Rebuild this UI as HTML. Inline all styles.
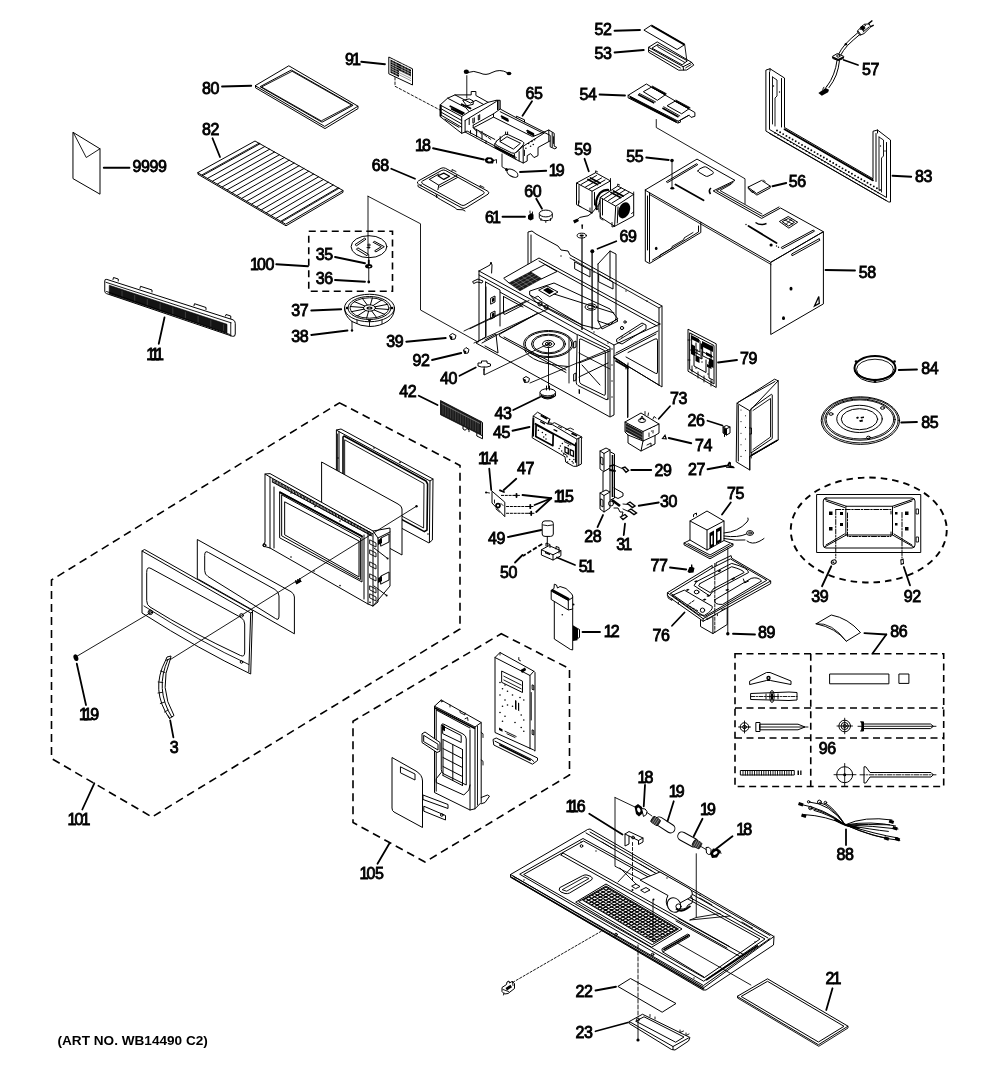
<!DOCTYPE html>
<html><head><meta charset="utf-8"><title>Parts Diagram</title>
<style>
html,body{margin:0;padding:0;background:#fff;}
svg{display:block}
.l{fill:none;stroke:#000;stroke-width:1;stroke-linecap:round;stroke-linejoin:round}
.t{fill:none;stroke:#000;stroke-width:.9;stroke-linecap:round;stroke-linejoin:round}
.h{fill:none;stroke:#000;stroke-width:.4}
.k{fill:none;stroke:#000;stroke-width:1.8;stroke-linecap:round}
.d{fill:none;stroke:#000;stroke-width:1.6;stroke-dasharray:7 4.5}
.w{fill:#fff;stroke:#000;stroke-width:1;stroke-linejoin:round}
.b{fill:#000;stroke:none}
text{font-family:"Liberation Sans",sans-serif;font-size:16px;fill:#000;stroke:#000;stroke-width:.85;letter-spacing:-.4px}
</style></head><body>
<svg width="1000" height="1067" viewBox="0 0 1000 1067">
<rect width="1000" height="1067" fill="#fff"/>
<!-- 01_topleft.svg -->
<g id="topleft">
<path class="l" d="M73.3 132.5L100.0 148.8L100.0 194.2L73.3 178.8Z"/>
<path class="t" d="M73.3 132.5L86.25 157.5L100 148.75"/>
<path class="l" d="M255.5 85.5L288.8 65.8L358.0 106.2L325.0 126.2Z"/>
<path class="l" d="M260.4 86.5L291.3 70.0L353.1 105.3L322.4 122.0Z"/>
<path class="t" d="M261.9 86.8L292.1 71.3L351.6 105.0L321.6 120.7Z"/>
<path class="l" d="M255.5 85.5L255.5 87.8L325 128.6L358 108.6L358 106.25"/>
<path class="l" d="M198.0 172.5L255.0 141.0L343.0 190.5L286.0 224.0Z"/>
<path class="l" d="M198 172.5L198 174.3L286 225.8L343 192.3L343 190.5"/>
<path class="l" d="M202.9 175.4L259.9 143.8"/>
<path class="l" d="M207.8 178.2L264.8 146.5"/>
<path class="l" d="M212.7 181.1L269.7 149.2"/>
<path class="l" d="M217.6 183.9L274.6 152.0"/>
<path class="l" d="M222.4 186.8L279.4 154.8"/>
<path class="l" d="M227.3 189.7L284.3 157.5"/>
<path class="l" d="M232.2 192.5L289.2 160.2"/>
<path class="l" d="M237.1 195.4L294.1 163.0"/>
<path class="l" d="M242.0 198.2L299.0 165.8"/>
<path class="l" d="M246.9 201.1L303.9 168.5"/>
<path class="l" d="M251.8 204.0L308.8 171.2"/>
<path class="l" d="M256.7 206.8L313.7 174.0"/>
<path class="l" d="M261.6 209.7L318.6 176.8"/>
<path class="l" d="M266.4 212.6L323.4 179.5"/>
<path class="l" d="M271.3 215.4L328.3 182.2"/>
<path class="l" d="M276.2 218.3L333.2 185.0"/>
<path class="l" d="M281.1 221.1L338.1 187.8"/>
<path class="t" d="M202.0 174.8L259.0 143.2"/>
<path class="t" d="M282.0 221.7L339.0 188.3"/>
<path class="w" d="M388.8 57.0L412.5 68.8L412.5 85.0L388.8 73.8Z"/>
<path class="b" d="M390.5 59.5L411 69.7L411 76L399 70.2L399 77L390.5 72.8Z"/>
<path class="h" d="M390.5 61.7L411 71.9"/>
<path class="h" d="M390.5 63.9L411 74.1"/>
<path class="h" d="M390.5 66.1L411 76.3"/>
<path class="h" d="M390.5 68.3L411 78.5"/>
<path class="h" d="M390.5 70.5L411 80.7"/>
<path d="M390.5 61.7L411 71.9M390.5 64L411 74.2M390.5 66.2L399 70.4M390.5 68.4L399 72.6M390.5 70.6L399 74.8" stroke="#fff" stroke-width=".5" fill="none"/>
<path d="M393 59L393 74M396 60L396 76M402 63L402 71.5M405 64.5L405 73M408 66L408 74.5" stroke="#fff" stroke-width=".4" fill="none"/>
<path class="t" stroke-dasharray="2.5 2" d="M395 77.5L395 86.25L440 110"/>
<path class="w" d="M417.7 183.2Q416.6 182 418.6 180.8L441 168.3Q443.3 167.2 445.5 168.3L487.8 191.2Q489.8 192.9 488 194.2L466 207.8Q464 209 462 208L419 184.6Z"/>
<path class="l" d="M421.7 182.6Q420.8 181.8 422.5 181L441.8 170.4Q443.8 169.5 445.8 170.6L483.5 191.5Q485 192.9 483.5 193.9L465 205Q463.1 206 461.2 205L423 184Z"/>
<path class="l" d="M418 185L418 186.5L436.1 196.5M436.1 194.7Q437 198.5 440.6 199.6L455 207.7L457 209.5L463 209.8L465 211"/>
<path class="l" d="M429.4 179.4L438.8 174M438.8 185.2L437.9 189.7M429.4 179.4L438.8 185.2L456.8 175.5M439.7 187L457.5 177.5"/>
<path d="M437.9 175.8L443.8 173.1L449.6 176.2L443.8 179.4Z" fill="none" stroke="#000" stroke-width="1.2" stroke-linejoin="round"/>
<path class="t" d="M452 171L452 169.5L456 171.5M480 187L480 185.5L484 187.5M436.5 195.5L436.5 197.5M421 184.5L421 186"/>
<path class="d" d="M308.75 231.25L392.5 231.25L392.5 291.25L308.75 291.25Z"/>
<ellipse class="l" cx="369" cy="246.7" rx="17.9" ry="11"/>
<path class="l" d="M355.3 244.4L364.6 238.2L366 239.2L356.9 245.5ZM356.7 249L357.8 247.8L368.3 254.2L367.2 255.4ZM374.6 241.4L384.3 246.7L375.8 252L374.6 250.8L381.3 246.7L373.5 242.5Z"/>
<path class="t" d="M367.5 245L370.5 245M367 247.5L370 247.5M369 243.8L369 248.5"/>
<path class="t" d="M368 196.25L368 255M368 196.25L420.5 223.75L420.5 310L478 342"/>
<path class="t" d="M368.75 255L368.75 282"/>
<circle class="b" cx="368.75" cy="282" r="1.4"/>
<ellipse class="b" cx="368.75" cy="266.2" rx="3.6" ry="2.2"/><ellipse cx="369.6" cy="266.6" rx="1" ry=".6" fill="#fff"/>
<path class="k" d="M368.75 260.5L368.75 265"/>
<ellipse class="l" cx="369.5" cy="308" rx="25" ry="13.75"/>
<ellipse class="l" cx="369.5" cy="308" rx="21.5" ry="11.5"/>
<ellipse class="t" cx="369.5" cy="308" rx="19.5" ry="10.2"/>
<ellipse class="l" cx="369.5" cy="308" rx="6" ry="3.2"/>
<ellipse class="b" cx="369.5" cy="308" rx="3" ry="1.6"/>
<ellipse cx="369.5" cy="308" rx="1.2" ry=".6" fill="#fff"/>
<path class="l" d="M375.4 308.5L388.8 309.5"/>
<path class="l" d="M374.2 310.0L384.7 314.4"/>
<path class="l" d="M371.7 311.0L376.6 317.5"/>
<path class="l" d="M368.6 311.2L366.6 318.1"/>
<path class="l" d="M365.8 310.5L357.3 316.0"/>
<path class="l" d="M363.9 309.2L351.3 311.7"/>
<path class="l" d="M363.6 307.5L350.2 306.5"/>
<path class="l" d="M364.8 306.0L354.3 301.6"/>
<path class="l" d="M367.3 305.0L362.4 298.5"/>
<path class="l" d="M370.4 304.8L372.4 297.9"/>
<path class="l" d="M373.2 305.5L381.7 300.0"/>
<path class="l" d="M375.1 306.8L387.7 304.3"/>
<path class="l" d="M344.5 308Q344.5 316 352 321.5Q361 326.5 369.5 326.5Q380 326.5 388 321Q394.5 316 394.5 308"/>
<path class="t" d="M352 321.25L352 330.5M357 320L357 323.5M382 320L382 323.5M369.5 321.7L369.5 326.5"/>
<circle class="b" cx="352" cy="330.5" r="1.2"/>
<circle class="b" cx="347" cy="308" r="1.3"/><circle class="b" cx="392" cy="308" r="1.3"/><circle class="b" cx="369.5" cy="320.5" r="1.3"/>
<path class="w" d="M104.75 281Q104.75 278.8 106.8 279.4L233 319.8Q235.25 320.8 235.25 323.3L235.25 334Q235.25 337 232.5 336.3L106.5 293.6Q104.75 293 104.75 291Z"/>
<path d="M109.25 285.25L227 324.25L227 333.25L109.25 294Z" fill="#141414" stroke="#000" stroke-width=".6"/>
<path d="M122.0 290.7L122.0 297.2M134.7 294.9L134.7 301.4M147.3 299.1L147.3 305.6M160.1 303.3L160.1 309.8M172.8 307.5L172.8 314.0M185.4 311.7L185.4 318.2M198.1 315.9L198.1 322.4M210.8 320.1L210.8 326.6M223.6 324.3L223.6 330.8" stroke="#666" stroke-width=".5" fill="none"/>
<path class="t" d="M106 282.3L231 322.8M230.75 322.5L230.75 336M106.5 291.5L230 334.5"/>
<path class="l" d="M113 279.5L113.5 277.5L118.25 279L118.25 281M140 288.3L140.5 286.3L152 290L152 292M194 305.7L194.5 303.7L206 307.5L206 309.5M225.5 316L226 314.5L230.75 316L230.75 318.5"/>
</g>
<!-- 02_topmid.svg -->
<g id="topmid">
<path class="w" d="M440.1 105.0L447.6 98.2L455.0 94.9L471.2 94.9L471.2 91.5L475.9 91.5L475.9 95.5L488.1 102.3L496.2 100.3L500.2 100.3L500.2 109.0L516.4 117.8L516.4 116.2L524.5 119.8L524.5 122.1L544.1 132.0L548.8 130.0L554.2 133.3L554.2 146.2L556.9 147.5L554.9 148.9L550.2 146.8L550.2 140.8L538.0 147.5L538.0 155.6L534.0 157.6L530.6 153.6L527.2 155.6L527.2 161.0L523.2 163.0L516.4 159.7L465.1 132.0L461.7 133.3L440.1 116.5Z"/>
<path class="l" d="M440.1 105.0L461.7 116.5L461.7 133.3M461.7 116.5L469.2 111.7L488.1 102.3M447.6 98.2L465.8 107.7L469.2 111.7M455.0 94.9L470.5 103.0L475.9 100.3L483.3 104.3"/>
<path class="l" d="M441.5 109.0L461.7 120.5M441.5 112.4L461.7 123.9M441.5 115.4L461.7 127.3M444.9 119.2L459.0 127.3"/>
<path class="k" d="M440.8 105.7L440.8 115.8M450.3 106.3L463.8 113.1M451.6 109.0L462.4 114.4M461.7 104.3L470.5 108.4"/>
<path class="l" d="M463.1 100.3L469.2 98.9L473.2 100.9L473.2 104.3L467.1 105.7Z"/>
<path class="l" d="M465.1 120.5L496.2 101.6L496.2 100.3M465.1 120.5L465.1 132.0M469.2 118.5L469.2 124.6M473.2 125.2L493.5 113.8L500.2 109.0M497.5 100.3L497.5 109.7M498.9 100.3L498.9 109.4"/>
<path class="l" d="M472.9 118.5L472.9 123.2L474.3 122.5L474.3 117.8M478.3 115.4L478.3 120.1L479.7 119.4L479.7 114.7"/>
<path class="l" d="M493.5 117.1L532.6 136.7L544.1 132.0M493.5 113.8L493.5 117.1L473.2 127.9L473.2 125.2M516.4 117.8L524.5 122.1M500.2 111.7L543.4 133.3"/>
<path class="k" d="M501.6 116.2L507.6 119.4M502.2 117.8L508.0 120.9M527.2 130.6L533.3 133.7M527.9 132.4L533.7 135.4"/>
<path class="l" d="M473.2 127.9L494.8 139.4M465.1 132.0L467.1 131.0L516.4 157.6M470.5 130.6L470.5 133.3M476.6 129.3L476.6 136.7M482.0 131.3L482.0 139.4M486.0 140.8L486.0 143.5"/>
<path class="t" d="M474.6 129.3L477.3 132.0M478.6 130.6L481.3 134.0M483.3 134.0L486.7 136.7M488.1 137.4L490.8 139.4"/>
<path class="l" d="M496.2 141.4L503.6 135.4Q505.6 133.7 508.3 134.7L522.5 141.4Q525.2 142.8 523.2 144.8L516.4 152.2Q514.4 154.0 511.7 152.9L496.8 145.5Q494.1 143.7 496.2 141.4Z"/>
<path class="l" d="M500.2 141.4L507.0 136.7L520.5 143.2L513.7 148.9Z"/>
<path class="l" d="M494.8 143.5L494.8 147.5L514.4 157.6L516.4 159.7M514.4 154.0L514.4 157.6M500.2 136.7L500.2 141.4M505.6 132.0L505.6 134.0M507.6 132.0L507.6 134.4"/>
<path class="k" d="M496.2 147.5L513.7 156.3"/>
<path class="l" d="M523.2 146.2L544.8 132.7M523.2 146.2L523.2 163.0M516.4 152.2L523.2 146.2M519.1 151.6L519.1 161.0M548.8 130.0L548.8 141.4M552.2 132.7L552.2 146.8M544.8 132.7L550.2 135.4L550.2 140.8"/>
<circle class="b" cx="528.6" cy="143.5" r=".8"/>
<circle class="b" cx="531.9" cy="141.4" r=".8"/>
<circle class="b" cx="534.6" cy="139.7" r=".8"/>
<circle class="b" cx="530.6" cy="146.2" r=".8"/>
<circle class="b" cx="533.3" cy="144.5" r=".8"/>
<circle class="b" cx="525.9" cy="148.2" r=".8"/>
<path class="t" d="M524.5 150.2L524.5 155.6M553.5 136.7L553.5 143.5"/>
<path class="l" d="M467.5 72.5Q474 70 480 73Q486 76 492 72.5Q500 68.5 507 72.5"/>
<ellipse class="b" cx="466.3" cy="71.8" rx="2.6" ry="2.2"/><ellipse class="b" cx="509" cy="73.5" rx="2.4" ry="1.8"/>
<path class="t" d="M466.8 75.6L466.8 98"/>
<path class="b" d="M484.5 159.5L487 157.2L491.5 157.5L494.2 160L493 163.5L488 163.5L485.5 162.2Z"/>
<ellipse cx="489.5" cy="160.3" rx="1.8" ry="1.2" fill="#fff"/>
<path class="t" d="M494 160.5L496.5 159.5L496.5 163"/>
<path class="t" d="M502 154L502 166.8L506 169.2"/>
<ellipse class="w" cx="512.4" cy="173.2" rx="6" ry="3.2" transform="rotate(30 512.4 173.2)"/>
<circle class="b" cx="506.5" cy="169.6" r="1.5"/>
<path class="w" d="M539.3 213.5L539.3 217.3A6.5 3.4 0 0 0 552.3 217.3L552.3 213.5"/>
<ellipse class="w" cx="545.8" cy="213.5" rx="6.5" ry="3.4"/>
<path class="t" d="M541 218.5L541 220.5M545.8 220.7L545.8 222.5M550.5 218.5L550.5 220.5"/>
<path class="b" d="M528 215.5L531 213L533.5 214.5L533.5 219L530.5 220.5L528 219Z"/>
<path class="t" d="M530 213L530 211M532.5 214L532.5 212"/>
<path class="w" d="M576.5 183.0L595.6 172.7L610.5 180.9L610.5 190.0L592.0 212.9L576.5 204.6Z"/>
<path class="l" d="M576.5 183.0L592.0 191.2L610.5 180.9"/>
<path class="l" d="M592 191.2L592 212.9M579 185.5L579 203M594.5 192.5L594.5 205"/>
<path class="l" d="M581 184.5L596.5 175.5M585.5 187L601.5 178M589 189L605 180"/>
<path class="k" d="M588 179.5L597.5 184.5M590.5 178L600 183"/>
<path class="t" d="M578.5 201L578.5 205.5L581 206.8M590 208L590 212L592 212.9M595.6 172.7L595.6 170.8L597.5 171.8M610.5 180.9L610.5 178.5"/>
<path d="M597 210Q594 200 600 193Q604 189.5 609 190" fill="none" stroke="#000" stroke-width="2.2"/>
<path class="l" d="M599 212Q597.5 202 602 196"/>
<path class="w" d="M600.2 197.4L617.7 186.0L633.7 194.3L633.7 216.0L614.6 226.3L600.2 217.0Z"/>
<path class="l" d="M600.2 197.4L615.7 206.2L633.7 194.3"/>
<path class="l" d="M615.7 206.2L614.6 226.3M602.5 199L602.5 215M618 207L617.3 223"/>
<path class="l" d="M604.5 198.5L621 188M608.5 200.5L625 190M612 203L629 192.5"/>
<path class="k" d="M611 192.5L620.5 197.5M613.5 191L623 196"/>
<ellipse class="b" cx="624.2" cy="210.3" rx="5.6" ry="8.4" transform="rotate(22 624.2 210.3)"/>
<path class="t" d="M617.7 186L617.7 184L619.6 185M633.7 194.3L633.7 192M600.2 213L600.2 218.5L603 220M612 222.5L612 227L614.6 226.3M631.5 213.5L633.7 212"/>
<path class="l" d="M592 212.9Q588 217 584 216.5Q579 216.5 577 220"/>
<path class="b" d="M573 220.5L577.5 218.5L579 221L574.5 223.5Z"/>
<path class="b" d="M581.3 224.5L583.1 224.5L582.7 229L581.7 229Z"/>
<ellipse class="l" cx="581.7" cy="235.6" rx="4.6" ry="2.4"/><ellipse class="b" cx="581.7" cy="235.6" rx="2.2" ry="1.1"/>
<path d="M582 238L582 330" stroke="#000" stroke-width=".6" fill="none"/>
<circle class="b" cx="592.3" cy="251.2" r="2"/>
<path d="M592.3 253L592.3 330" stroke="#000" stroke-width=".6" fill="none"/>
</g>
<!-- 03_topright.svg -->
<g id="topright">
<path class="w" d="M643.9 30.1L651.3 25.2L684.7 44.6L677.1 49.5Z"/>
<path d="M651.5 25.6L684.5 44.6" stroke="#000" stroke-width="1.9" fill="none"/>
<path class="t" d="M684.7 44.6L686.8 60.3"/>
<path class="w" d="M648.6 47.3L657.2 41.9L691.7 62.4L693.8 65.1L686.8 70.0L678.7 70.2L648.6 52.2Z"/>
<path class="l" d="M648.6 47.3L683.1 66.7L691.7 62.4M683.1 66.7L683.6 70.0M648.6 50.0L680.4 68.0"/>
<path class="l" d="M652.3 47.9L657.7 44.6L687.4 60.8L682.5 64.6Z"/>
<path class="t" d="M657.7 44.6L657.9 46.8L684.7 62.4M685.7 67.8L691.1 64.6"/>
<path class="w" d="M628.1 95.3L646.4 84.0L694.9 112.5L694.9 116.3L691.1 117.4L689.0 115.2L680.4 120.1L680.4 122.2L677.7 123.0L628.1 97.8Z"/>
<path class="l" d="M628.1 95.3L678.2 121.2L689.0 115.2M678.2 121.2L678.2 122.8"/>
<path d="M629.7 97.1L676.6 121.9" stroke="#000" stroke-width="2" fill="none"/>
<path class="l" d="M643.7 91.5L651.3 87.2L665.3 94.8L657.7 100.1ZM667.4 105.5L675.0 101.2L689.0 108.8L682.0 113.6Z"/>
<path d="M638.1 94.5L654.3 102.9M662.4 107.9L678.5 117.0M651.8 87.0L665.8 94.5M675.5 101.0L689.5 108.6" stroke="#000" stroke-width="1.7" fill="none"/>
<path class="t" d="M639.4 93.5L655.6 101.9M663.7 106.8L679.8 115.9M652.3 86.1L666.3 93.7M676.0 100.1L690.1 107.7"/>
<path class="t" d="M656.25 119.5L656.25 127.5L745 178.75L745 203.75"/>
<circle class="b" cx="672" cy="160.5" r="1.8"/>
<path class="t" d="M672 161L672 187.5"/>
<ellipse class="b" cx="672.3" cy="188.3" rx="2" ry="1.2"/>
<path class="l" d="M748.3 187.0L761.6 180.4L770.2 186.1L756.9 193.3Z"/>
<path class="l" d="M748.3 187L748.3 188.8L756.9 195.1L770.2 187.9L770.2 186.1M763.5 180L765 181.5M750 190L752 192.5L754 191.5"/>
<path class="l" d="M857.7 32.8Q850.5 38.7 845.4 44.2Q841.2 48.8 838.3 54.7"/>
<path class="l" d="M859.8 34.5Q852.6 40.4 847.6 45.4Q843.3 50.1 840.4 55.6"/>
<path class="l" d="M837.0 60.6Q836.2 67.4 833.6 74.1Q831.1 80.9 826.9 86.4"/>
<path class="l" d="M839.5 60.6Q838.7 68.2 836.2 75.0Q833.6 81.7 829.0 87.6"/>
<circle class="b" cx="845.9" cy="44.2" r="1.3"/>
<path class="w" d="M832.4 56.4L837.4 53.5L843.8 56.4L843.3 58.5L838.3 60.6L832.8 58.5Z"/>
<path d="M832.8 57.3L838.3 59.8L843.3 57.3" stroke="#000" stroke-width="1.6" fill="none"/>
<ellipse class="l" cx="838.3" cy="56.0" rx="1.6" ry="1.2"/>
<path class="w" d="M857.3 31.1L864.0 24.3L869.1 23.9L870.8 26.9L864.0 33.6L859.8 35.3Z"/>
<path class="l" d="M860.6 29.4L865.7 25.2M863.2 31.9L869.1 26.9M858.5 31.5L860.6 34.5"/>
<path d="M868.2 23.9L872.4 20.5M870.3 26.9L873.7 25.2M860.6 28.1L864.0 30.3" stroke="#000" stroke-width="1.5" fill="none"/>
<path class="b" d="M859.8 27.3L862.7 25.2L865.7 28.1L862.7 30.7Z"/>
<path class="b" d="M818.4 93.1L825.6 88.1L829.0 89.7L828.1 92.3L821.8 95.7Z"/>
<path class="t" d="M825.6 88.1L826.9 85.9M822.7 89.3L823.9 87.2"/>
<path class="l" d="M766.25 70L770 68.75L784.5 78L784.5 127.5L873 178.75L873 131.25L877.5 130L890.5 140L890.5 202L888.75 202L766.25 131.25Z"/>
<path class="l" d="M769.5 72L769.5 129.5L886.5 197.5L886.5 142.5M770 68.75L770 71M877.5 130L877.5 133M876 133.5L876 181.5M781.5 78.5L781.5 127"/>
<path class="k" d="M784.5 129.2L873 180.4"/>
<path class="t" d="M772.5 77L777 80L777 96L775 98L775 126M772.5 77L772.5 124M879 137L883.5 140L883.5 156L881.5 158L881.5 192M879 137L879 190M769.5 133.5L886 200.5"/>
<circle class="b" cx="777.0" cy="130.5" r=".95"/>
<circle class="b" cx="775.0" cy="133.1" r=".8"/>
<circle class="b" cx="780.1" cy="132.3" r=".95"/>
<circle class="b" cx="778.1" cy="134.9" r=".8"/>
<circle class="b" cx="783.2" cy="134.1" r=".95"/>
<circle class="b" cx="781.2" cy="136.7" r=".8"/>
<circle class="b" cx="786.4" cy="135.9" r=".95"/>
<circle class="b" cx="784.4" cy="138.5" r=".8"/>
<circle class="b" cx="789.5" cy="137.7" r=".95"/>
<circle class="b" cx="787.5" cy="140.3" r=".8"/>
<circle class="b" cx="792.6" cy="139.5" r=".95"/>
<circle class="b" cx="790.6" cy="142.1" r=".8"/>
<circle class="b" cx="795.7" cy="141.3" r=".95"/>
<circle class="b" cx="793.7" cy="143.9" r=".8"/>
<circle class="b" cx="798.8" cy="143.1" r=".95"/>
<circle class="b" cx="796.8" cy="145.7" r=".8"/>
<circle class="b" cx="802.0" cy="144.9" r=".95"/>
<circle class="b" cx="800.0" cy="147.5" r=".8"/>
<circle class="b" cx="805.1" cy="146.7" r=".95"/>
<circle class="b" cx="803.1" cy="149.3" r=".8"/>
<circle class="b" cx="808.2" cy="148.5" r=".95"/>
<circle class="b" cx="806.2" cy="151.1" r=".8"/>
<circle class="b" cx="811.3" cy="150.3" r=".95"/>
<circle class="b" cx="809.3" cy="152.9" r=".8"/>
<circle class="b" cx="814.5" cy="152.1" r=".95"/>
<circle class="b" cx="812.5" cy="154.7" r=".8"/>
<circle class="b" cx="817.6" cy="153.9" r=".95"/>
<circle class="b" cx="815.6" cy="156.5" r=".8"/>
<circle class="b" cx="820.7" cy="155.7" r=".95"/>
<circle class="b" cx="818.7" cy="158.3" r=".8"/>
<circle class="b" cx="823.8" cy="157.5" r=".95"/>
<circle class="b" cx="821.8" cy="160.1" r=".8"/>
<circle class="b" cx="826.9" cy="159.3" r=".95"/>
<circle class="b" cx="824.9" cy="161.9" r=".8"/>
<circle class="b" cx="830.1" cy="161.2" r=".95"/>
<circle class="b" cx="828.1" cy="163.8" r=".8"/>
<circle class="b" cx="833.2" cy="163.0" r=".95"/>
<circle class="b" cx="831.2" cy="165.6" r=".8"/>
<circle class="b" cx="836.3" cy="164.8" r=".95"/>
<circle class="b" cx="834.3" cy="167.4" r=".8"/>
<circle class="b" cx="839.4" cy="166.6" r=".95"/>
<circle class="b" cx="837.4" cy="169.2" r=".8"/>
<circle class="b" cx="842.5" cy="168.4" r=".95"/>
<circle class="b" cx="840.5" cy="171.0" r=".8"/>
<circle class="b" cx="845.7" cy="170.2" r=".95"/>
<circle class="b" cx="843.7" cy="172.8" r=".8"/>
<circle class="b" cx="848.8" cy="172.0" r=".95"/>
<circle class="b" cx="846.8" cy="174.6" r=".8"/>
<circle class="b" cx="851.9" cy="173.8" r=".95"/>
<circle class="b" cx="849.9" cy="176.4" r=".8"/>
<circle class="b" cx="855.0" cy="175.6" r=".95"/>
<circle class="b" cx="853.0" cy="178.2" r=".8"/>
<circle class="b" cx="858.2" cy="177.4" r=".95"/>
<circle class="b" cx="856.2" cy="180.0" r=".8"/>
<circle class="b" cx="861.3" cy="179.2" r=".95"/>
<circle class="b" cx="859.3" cy="181.8" r=".8"/>
<circle class="b" cx="864.4" cy="181.0" r=".95"/>
<circle class="b" cx="862.4" cy="183.6" r=".8"/>
<circle class="b" cx="867.5" cy="182.8" r=".95"/>
<circle class="b" cx="865.5" cy="185.4" r=".8"/>
<circle class="b" cx="870.6" cy="184.6" r=".95"/>
<circle class="b" cx="868.6" cy="187.2" r=".8"/>
<circle class="b" cx="873.8" cy="186.4" r=".95"/>
<circle class="b" cx="871.8" cy="189.0" r=".8"/>
<circle class="b" cx="876.9" cy="188.2" r=".95"/>
<circle class="b" cx="874.9" cy="190.8" r=".8"/>
<circle class="b" cx="880.0" cy="190.0" r=".95"/>
<circle class="b" cx="878.0" cy="192.6" r=".8"/>
<circle class="b" cx="773.5" cy="86" r=".7"/><circle class="b" cx="779.5" cy="92" r=".7"/><circle class="b" cx="880.5" cy="146" r=".7"/><circle class="b" cx="885" cy="151" r=".7"/>
<path class="l" d="M645.3 189.9L697.0 159.1L735.0 180.4L713.2 190.9L761.6 218.4L780.6 208.0L823.4 231.7L771.1 262.1Z"/>
<path class="l" d="M771.1 262.1L823.4 231.7L823.4 303.9L771.1 334.3Z"/>
<path class="l" d="M645.3 189.9L645.3 261.2L649.5 263.5L700.8 232.5L700.8 222.2"/>
<path class="l" d="M649.5 192.8L649.5 262.1M647.5 196L647.5 250M652.5 260L698.5 232L698.5 226"/>
<path class="t" d="M649.5 194.5L771.1 264.5M660 257L660 255L672 248L672 246.5L684 239.5L684 238L693 232.5"/>
<path class="l" d="M733 182.5L716.5 190.7L762 216.3L779 207"/>
<path class="t" d="M731 184.3L720 190.5L762 214"/>
<path d="M711 188Q708 190.5 710.5 194" fill="none" stroke="#000" stroke-width="1.6"/>
<path class="k" d="M675.5 184.5L703.5 200.3M748.5 226L776.5 243"/>
<path class="l" d="M666.6 181.5L696.5 163.8L697.8 164.6L667.9 182.4ZM781.6 247.2L813.5 230L814.5 231.2L782.6 248.6ZM792 253.8L819.3 238.6L819.8 240.4L792.4 255.6Z"/>
<path class="l" d="M698 170.9Q698.5 169.5 700 168.7L704 166.9Q705.6 166.5 707 167.5L712.8 171.5Q714.1 172.8 712.8 173.8L708 176.2Q706.5 176.8 705 175.8L699 172.3Q698 171.7 698 170.9Z"/>
<path class="l" d="M779.7 221.3L788.2 216.5L797.7 222.2L789.2 227.9Z"/>
<path class="l" d="M782.5 221.5L788.2 218.5L794.5 222.3L789.0 225.8Z"/>
<path class="t" d="M785 220L792.5 224M791 219.5L786 224.5"/>
<path d="M755.5 222.5Q760.5 226 766.5 223.5" fill="none" stroke="#000" stroke-width="1.4"/>
<circle class="b" cx="771.1" cy="245" r="1.6"/><circle class="b" cx="776.5" cy="246" r=".7"/><circle class="b" cx="778.5" cy="247.3" r=".7"/><circle class="b" cx="746" cy="224.5" r=".7"/>
<ellipse class="b" cx="791" cy="288.7" rx="1.5" ry="1.9"/><ellipse class="b" cx="783.5" cy="318.2" rx="1.5" ry="1.9"/><ellipse class="b" cx="656.2" cy="248.4" rx="1.3" ry="1.7"/>
<path d="M814.5 306L818.8 296.5L819.3 303.3Z" fill="none" stroke="#000" stroke-width="1.3"/>
</g>
<!-- 04_cavity.svg -->
<g id="cavity">
<path class="l" d="M528.0 264.0L528.0 232.0L532.0 231.0L536.0 234.0L558.0 246.0L561.0 250.0L568.0 251.0L570.0 255.0L662.0 306.0L662.0 387.0L659.0 385.0L614.0 358.0"/>
<path class="l" d="M531.0 235.0L531.0 262.0"/>
<path class="l" d="M659.0 308.0L659.0 385.0"/>
<path class="t" d="M662.0 306.0L659.0 308.0L570.0 258.0"/>
<path class="l" d="M575.0 262.0L590.0 270.0L590.0 277.0L575.0 269.0Z"/>
<path class="l" d="M599.0 274.0L613.0 282.0L613.0 289.0L599.0 282.0Z"/>
<path class="l" d="M504.0 278.0L539.0 258.0L660.0 324.0"/>
<path class="l" d="M539.0 261.0L657.0 326.0"/>
<path class="l" d="M479.0 271.0L614.0 345.0L614.0 415.0L610.0 417.0L476.0 343.0L479.0 341.0L479.0 271.0"/>
<path class="l" d="M479.0 275.0L610.0 347.4L610.0 416.0"/>
<path class="l" d="M485.6 282.0L485.6 337.0L479.0 341.0"/>
<path class="l" d="M485.6 282.0L500.0 290.0L500.0 326.0"/>
<path class="l" d="M500.2 292.2L576.5 334.3M613.8 357.5L659.5 385.5"/>
<path class="t" d="M486 287L486 336M470 328.7L529 300.5M484 369.4L484 374.3"/>
<path class="l" d="M479.0 271.0L490.0 265.0L491.0 262.0L492.0 265.0L491.6 273.0"/>
<path class="l" d="M473.0 281.4L478.0 279.0L483.0 281.0L482.0 283.0L477.0 282.0L474.0 283.4Z"/>
<path class="l" d="M503.5 296.5L503.5 313Q503.5 315 505.5 314L522 305.5M503.5 296.5L523 307"/>
<path class="l" d="M491.0 298.0L495.0 296.0L495.0 302.0L491.0 304.0Z"/>
<path class="l" d="M491.0 313.0L495.0 311.0L495.0 317.0L491.0 319.0Z"/>
<path class="b" d="M492.0 298.6L494.4 297.4L494.4 301.0L492.0 302.2Z"/>
<path class="b" d="M492.0 313.6L494.4 312.4L494.4 316.0L492.0 317.2Z"/>
<path d="M509.0 283.0L530.5 271.8L541.7 278.8L520.0 290.7Z" fill="#1a1a1a" stroke="#000" stroke-width=".6"/>
<path d="M511.8 284.9L533.3 273.6M514.5 286.9L536.1 275.3M517.2 288.8L538.9 277.1M513.3 280.8L524.3 288.3M517.6 278.5L528.7 285.9M521.9 276.3L533.0 283.6M526.2 274.0L537.4 281.2" stroke="#bbb" stroke-width=".4" fill="none"/>
<path class="l" d="M504 278.6L509 283M530.5 271.8L545 264.5L557 271.5L541.7 278.8"/>
<path class="l" d="M530.0 291.0L554.0 283.0L610.0 309.0L618.0 319.0L598.0 329.0L582.0 325.0L530.0 295.0Z"/>
<path class="l" d="M539.0 290.0L547.0 286.0L558.0 292.0L550.0 296.4Z"/>
<path class="b" d="M543.0 290.0L547.6 287.6L554.0 291.6L549.4 294.2Z"/>
<path class="l" d="M554.0 294.0L614.0 313.0"/>
<ellipse class="l" cx="591.0" cy="307.0" rx="6" ry="3.2"/>
<ellipse class="t" cx="591.0" cy="307.0" rx="3.5" ry="1.8"/>
<path class="l" d="M530.0 295.0L536.0 302.0L550.0 309.0L582.0 325.0"/>
<path class="t" d="M534.0 298.0L538.0 296.0L542.0 300.0"/>
<circle class="l" cx="540.0" cy="304.0" r="2"/>
<circle class="l" cx="546.0" cy="307.0" r="2"/>
<path class="l" d="M592.0 252.0L592.0 329.0"/>
<path class="l" d="M598.0 264.0L610.0 251.0L616.0 254.0L616.0 319.0L610.0 325.0L598.0 321.0L598.0 264.0"/>
<path class="l" d="M610.0 251.0L610.0 279.0"/>
<path class="l" d="M598.0 321.0L602.0 329.0L618.0 321.0L616.0 319.0"/>
<path class="t" d="M582.0 237.0L582.0 329.0"/>
<path class="l" d="M614.0 345.0L660.0 324.0"/>
<path class="l" d="M616.0 353.0L658.0 331.0"/>
<path class="l" d="M614.0 356.0L656.0 334.0"/>
<path class="l" d="M628 352.5L655 339Q657.5 338 657.5 340.5L657.5 372Q657.5 374.5 655.5 373.3L626 357"/>
<path class="l" d="M617.0 339.0L642.0 323.0L646.0 325.0L646.0 329.0L622.0 344.0L617.0 342.0Z"/>
<path class="t" d="M619.0 340.0L643.0 325.0"/>
<path class="l" d="M614.0 357.0L626.0 365.0L626.0 369.0"/>
<path class="k" d="M616.0 361.0L628.0 368.0"/>
<circle class="l" cx="622.0" cy="328.0" r="1.6"/>
<circle class="l" cx="625.0" cy="322.0" r="1.2"/>
<path class="l" d="M577 335.5Q576 334 578.5 335L606.5 348.5Q608 349.3 608 351L608 398Q608 400.5 606 399.5L578 385.5Q576.2 384.5 576.2 382.5Z"/>
<path class="l" d="M579.5 340Q579.3 338.3 581 339L604 350.3Q605.3 351 605.3 352.5L605.3 394Q605.3 396 603.5 395L581 384Q579.5 383 579.5 381.5Z"/>
<path class="l" d="M574.0 342.0L576.0 341.0L576.0 347.0L574.0 348.0Z"/>
<path class="l" d="M574.0 374.0L576.0 373.0L576.0 380.0L574.0 381.0Z"/>
<path class="l" d="M579.0 363.0L610.0 351.0"/>
<path class="l" d="M579.0 377.0L608.0 363.0"/>
<path class="l" d="M582.0 365.0L600.0 385.0"/>
<path class="t" d="M579.0 353.0L610.0 369.0"/>
<path class="b" d="M578.6 389.0L580.0 389.6L580.0 394.0L578.6 393.4Z"/>
<path class="l" d="M482.0 343.0L538.0 313.0"/>
<path class="l" d="M500 336.5Q498 335 500.5 333.7L534 315.5M500 336.5L566 372.5M504 337L566 370"/>
<path class="l" d="M485.0 340.0L496.0 334.0L498.0 353.0L485.0 346.0"/>
<clipPath id="ttc"><path d="M470 290L575.5 290L575.5 400L470 400Z"/></clipPath>
<g clip-path="url(#ttc)">
<ellipse class="l" cx="548.5" cy="344" rx="24.8" ry="13.5"/>
<ellipse class="l" cx="548.5" cy="344" rx="23.3" ry="12.5"/>
<ellipse class="l" cx="548.5" cy="344" rx="17" ry="9.8"/>
<ellipse class="t" cx="548.5" cy="344" rx="15.5" ry="8.8"/>
<ellipse class="l" cx="548.5" cy="344" rx="6" ry="3.6"/>
<ellipse class="l" cx="548.5" cy="344" rx="3.2" ry="1.9"/>
<ellipse class="b" cx="548.5" cy="344" rx="1.6" ry=".9"/>
<path class="l" d="M524.5 350Q531 364 568 366.5"/>
</g>
<path class="t" d="M548.5 347L548.5 388"/>
<path class="t" d="M569.0 337.0L569.0 383.0"/>
<path class="t" d="M474.0 343.0L548.0 309.0"/>
<path class="t" d="M464.0 331.0L526.0 301.0"/>
<path class="t" d="M484.0 369.0L484.0 375.0L550.0 343.0"/>
<path class="t" d="M530.0 383.0L610.0 349.0"/>
<path class="t" d="M628.0 363.0L628.0 417.0"/>
<circle class="b" cx="561.0" cy="256.0" r=".7"/>
<circle class="b" cx="574.0" cy="260.0" r=".7"/>
<circle class="b" cx="594.0" cy="272.0" r=".7"/>
<circle class="b" cx="626.0" cy="291.0" r=".7"/>
<circle class="b" cx="647.0" cy="301.0" r=".7"/>
<circle class="b" cx="582.0" cy="329.0" r=".7"/>
<circle class="b" cx="594.0" cy="332.0" r=".7"/>
<circle class="b" cx="608.0" cy="343.0" r=".7"/>
<circle class="b" cx="612.0" cy="349.0" r=".7"/>
<circle class="b" cx="612.0" cy="365.0" r=".7"/>
<circle class="b" cx="612.0" cy="381.0" r=".7"/>
<circle class="b" cx="612.0" cy="397.0" r=".7"/>
<circle class="b" cx="608.0" cy="399.0" r=".7"/>
<circle class="b" cx="622.0" cy="337.0" r=".7"/>
<circle class="b" cx="630.0" cy="333.0" r=".7"/>
<path class="w" d="M540 392.5L540 396Q547.5 402 555.5 396L555.5 392.5"/>
<ellipse class="w" cx="547.8" cy="392.3" rx="7.8" ry="3.6"/>
<path class="b" d="M541 394.5Q547.5 399 554.5 394.5L554.5 396.5Q547.5 401 541 396.5Z"/>
<path class="l" d="M546.5 386L546.5 390M549.5 386L549.5 390"/>
<path class="w" d="M449.5 335.5L452.5 333.5L456 335.5L455 339L451 339.5Z"/><path class="b" d="M449.5 335.5L452.5 336.8L452 339.4L451 339.5Z"/>
<path class="w" d="M463.5 350L466 347.5L469 349.5L468 353L464.5 353.5Z"/><path class="b" d="M463.5 350L466.3 351.2L465.8 353.3L464.5 353.5Z"/>
<path class="w" d="M523 378.5L526 376.5L529.5 378.5L528.5 382L524.5 382.5Z"/><path class="b" d="M523 378.5L526 379.8L525.5 382.3L524.5 382.5Z"/>
<path class="w" d="M478 363L481.5 363L481.5 361L487 361L487 363L490.5 364L490.5 366L487 367L481.5 367L478 366Z"/>
<path class="t" d="M484.2 367L484.2 370"/>
</g>
<!-- 05_mid.svg -->
<g id="mid">
<path d="M440.5 400.5L481 421.5L481 435L440.5 414.7Z" fill="#1c1c1c" stroke="#000" stroke-width=".8"/>
<path d="M441.5 403.5L480 423.5" stroke="#aaa" stroke-width=".6" fill="none"/>
<path d="M443.0 403.5L443.0 414.5M445.5 404.8L445.5 415.8M448.0 406.1L448.0 417.1M450.5 407.4L450.5 418.3M453.0 408.7L453.0 419.6M455.5 410.0L455.5 420.9M458.0 411.3L458.0 422.2M460.5 412.6L460.5 423.5M463.0 413.9L463.0 424.7M465.5 415.2L465.5 426.0M468.0 416.5L468.0 427.3M470.5 417.8L470.5 428.6M473.0 419.1L473.0 429.9M475.5 420.4L475.5 431.1M478.0 421.7L478.0 432.4" stroke="#777" stroke-width=".35" fill="none"/>
<path class="l" d="M463 426L463 429L465 430.3L467 428.5L469 429.8L469 431.7M476.8 433L476.8 436L482.5 438.8L482.5 436L481 435M481 421.5L482.5 422.5L482.5 436"/>
<path class="w" d="M533.2 416.1L537.5 412.2L549.9 419.1L548.0 422.7L552.5 423.4L554.5 422.7L582.0 437.1L581.4 439.1L581.4 464.0L576.8 466.3L573.5 466.3L565.7 462.0L565.0 456.8L532.2 437.8Z"/>
<path class="l" d="M533.2 416.1L548.0 424.0L549.9 419.1M548.0 424.0L552.5 424.7L576.8 439.1L581.4 437.1M576.8 439.1L576.8 466.0M578.8 438.1L578.8 465.0"/>
<path d="M536.1 424.7L553.2 433.9L552.9 445.7L535.8 436.5ZM534.8 423.4L575.5 445.7M575.8 442.4L575.8 462.7M533.5 418.1L533.2 436.5" fill="none" stroke="#000" stroke-width="1.7" stroke-linejoin="round"/>
<path class="b" d="M540.1 416.1L546.6 419.8L548.0 418.1L541.4 414.8ZM570.9 433.9L576.8 436.8L577.5 435.2L572.2 432.5ZM553.2 429.9L557.1 431.9L557.5 430.6L553.9 428.9ZM539.8 422.0L544.7 424.7L545.0 423.0L540.4 421.1ZM557.8 426.6L561.7 428.6L562.0 427.6L558.1 425.9Z"/>
<path d="M565.0 447.0L568.3 448.6L568.3 453.9L565.0 452.2ZM570.2 449.6L573.5 451.2L573.5 456.5L570.2 454.8Z" fill="none" stroke="#000" stroke-width="1.3"/>
<circle class="b" cx="538.4" cy="430.2" r=".75"/>
<circle class="b" cx="542.4" cy="432.5" r=".75"/>
<circle class="b" cx="545.7" cy="434.8" r=".75"/>
<circle class="b" cx="543.7" cy="437.1" r=".75"/>
<circle class="b" cx="546.0" cy="439.1" r=".75"/>
<circle class="b" cx="562.4" cy="443.4" r=".75"/>
<circle class="b" cx="560.4" cy="446.0" r=".75"/>
<circle class="b" cx="559.1" cy="448.6" r=".75"/>
<circle class="b" cx="561.7" cy="450.9" r=".75"/>
<circle class="b" cx="563.7" cy="453.9" r=".75"/>
<circle class="b" cx="568.3" cy="445.7" r=".75"/>
<circle class="b" cx="567.0" cy="456.8" r=".75"/>
<circle class="b" cx="569.6" cy="459.4" r=".75"/>
<circle class="b" cx="572.2" cy="461.4" r=".75"/>
<circle class="b" cx="567.6" cy="462.0" r=".75"/>
<circle class="b" cx="573.9" cy="459.4" r=".75"/>
<circle class="b" cx="573.2" cy="463.0" r=".75"/>
<path class="t" d="M564.3 441.7L570.9 445.0M563.0 452.9L567.0 455.5M565.7 429.9L570.2 428.0L573.5 429.6"/>
<path class="w" d="M492.0 491.2L504.8 502.2L504.8 516.7L492.0 503.0Z"/>
<circle class="b" cx="498" cy="505.6" r="2.8"/><circle cx="498" cy="505.6" r="1.1" fill="#fff"/>
<path class="t" d="M494.5 500L494.5 503M501 503.5L503 505.5M496 509L499.5 512"/>
<path class="l" stroke-dasharray="2.2 1.6" d="M501.4 495.4L516 495.4M506.5 506.5L529 506.5M506.5 513.3L530 513.3"/>
<path class="k" d="M516.5 493.8L516.5 497M530.3 504.8L530.3 508.2M531.2 511.6L531.2 515M500 490.3L504 492"/>
<path class="l" d="M514 495.4L519.5 495.4M527.5 506.5L533 506.5M528.5 513.3L534 513.3"/>
<circle class="b" cx="486.1" cy="492.5" r="1.1"/>
<path class="t" d="M487 492.6L489.5 493"/>
<path class="w" d="M542.2 523.5Q542.2 520.9 545 520.9L550.5 520.9Q553.3 520.9 553.3 523.5L553.3 534Q553.3 536.4 550.5 536.4L545 536.4Q542.2 536.4 542.2 534Z"/>
<path class="t" d="M543 525Q547.5 526.5 552.5 525"/>
<path class="l" d="M547.3 536.4L547.3 546.4"/>
<path class="w" d="M541.4 549.8L549.0 545.6L560.9 550.7L560.9 555.8L553.0 560.0L541.4 555.0Z"/>
<path class="l" d="M541.4 549.8L553 554.8L560.9 550.7M553 554.8L553 560M546 546L546 543L550 544.5L550 547.5M556 549L556 546.5L559 547.5L559 553"/>
<path class="b" d="M545 551.8L550 553.8L550 555.3L545 553.3Z"/>
<path d="M542.2 543.9L523 556" fill="none" stroke="#000" stroke-width="1.8" stroke-dasharray="4.5 2"/>
<path class="w" d="M600.0 451.0L606.0 448.0L610.0 450.0L610.0 468.0L604.0 472.0L600.0 469.0Z"/>
<path class="l" d="M600 451L604 453.5L610 450M604 453.5L604 472"/>
<path class="l" d="M601.0 457.0L603.0 458.2L603.0 465.0L601.0 463.8Z"/>
<path class="w" d="M603.0 472.0L610.0 468.0L610.0 492.0L603.0 494.0Z"/>
<path class="w" d="M600.0 493.0L606.0 490.0L610.0 492.0L610.0 508.0L604.0 512.0L600.0 509.0Z"/>
<path class="l" d="M600 493L604 495.5L610 492M604 495.5L604 512"/>
<path class="l" d="M601.0 499.0L603.0 500.2L603.0 507.0L601.0 505.8Z"/>
<path class="l" d="M610.5 452L614.5 454L614.5 498L610.5 500"/>
<path d="M612.5 455L612.5 497" stroke="#000" stroke-width="1.6"/>
<path class="l" d="M614 488L623 493L623 496L618 498.5L614 496.5"/>
<path class="k" d="M610 466L614 465M610 470L615 471"/>
<path d="M612 500L620 506" stroke="#000" stroke-width="2.6" fill="none"/>
<circle class="l" cx="611" cy="503.5" r="2.5"/>
<path class="l" d="M614 508L618 508L620 512L623 512L622 516"/>
<path class="t" d="M614 465L622 468.5"/>
<path d="M622.5 468.0L625.0 467.0L628.5 470.5L626.0 472.3Z" fill="#fff" stroke="#000" stroke-width="1.4"/>
<path d="M627.5 503.5L630 502L635 506L632.5 507.6Z" fill="#fff" stroke="#000" stroke-width="1.4"/>
<path d="M628.5 510.5L631 509L636.5 513L634 514.6Z" fill="#fff" stroke="#000" stroke-width="1.4"/>
<path class="t" d="M623 504L627.5 504.5M623 509L628.5 511.5"/>
<path d="M620.5 517L625 514.5L627 516.5L623 519.5Z" fill="#fff" stroke="#000" stroke-width="1.4"/>
<path class="w" d="M625.0 422.0L641.0 413.0L659.0 424.0L659.0 433.0L655.0 435.5L655.0 444.0L641.0 451.0L628.0 443.0L628.0 435.0L625.0 432.0Z"/>
<path class="l" d="M625 422L643 431.5L659 424M643 431.5L643 441L655 435.5M628 435L643 441M643 441L641 451"/>
<path d="M625.5 423L642.5 432L642.5 440.5L625.5 431.5Z" fill="#1a1a1a"/>
<path d="M625.5 425.8L642.5 434.8M625.5 428.8L642.5 437.8" stroke="#bbb" stroke-width=".45"/>
<ellipse class="w" cx="642" cy="420.5" rx="3.6" ry="2"/>
<path class="l" d="M640 420L642 416L644 420"/>
<path class="t" d="M645 414.5L645 411.5M648 416L648.5 413M653 419L654 416.5L656 418M649 433L649 436.5M653 430.5L653 433M647 445L651 443L651 446.5"/>
<circle class="b" cx="650" cy="428.5" r=".6"/><circle class="b" cx="654" cy="426.5" r=".6"/><circle class="b" cx="651.5" cy="431" r=".6"/>
<path class="t" d="M627.5 365L627.5 417.5"/>
<path d="M662.5 438.5L665 435.3L666.2 438.8Z" fill="none" stroke="#000" stroke-width="1.2"/>
<path class="w" d="M723.0 427.0L726.5 425.5L730.0 427.0L730.0 433.0L726.5 435.0L723.0 433.0Z"/>
<path class="l" d="M723 427L726.5 428.8L730 427M726.5 428.8L726.5 435M724.5 434L724.5 436.5"/>
<path class="b" d="M723.3 427.6L726.2 429.1L726.2 434.6L723.3 432.9Z"/>
<path class="b" d="M726.5 466L729 461.5L731 462.5L731 465.5L734 466.5L733 468Z"/>
<path d="M729.2 465.3L730 464L730.2 465.5Z" fill="#fff"/><path class="b" d="M726 466.5L734.5 467L734.5 468.3L726 467.8Z"/>
<path class="w" d="M737.0 403.2L774.5 379.2L778.2 380.8L778.2 440.0L749.8 456.5L749.8 470.0L736.2 461.8Z"/>
<path class="l" d="M737 403.25L749.75 410.75L749.75 470M749.75 410.75L778.25 380.75M738.5 402L775 381.5M738.3 405.5L738.3 461"/>
<path class="l" d="M751.25 408.5L771.5 394.25L772.25 395L772.25 438.5L751.25 452.75Z"/>
<path class="t" d="M753 410.5L770.5 398.5L770.5 437L753 449.5M751.25 452.75L751.25 458M749.75 456.5L778.25 440"/>
<path d="M751 455.5L777.5 440.2" stroke="#000" stroke-width="1.5" fill="none"/>
<path class="t" d="M749.75 428L751.5 428L751.5 434L749.75 434"/>
<circle class="b" cx="741.0" cy="410.0" r=".55"/>
<circle class="b" cx="745.5" cy="415.8" r=".55"/>
<circle class="b" cx="741.0" cy="421.6" r=".55"/>
<circle class="b" cx="745.5" cy="427.4" r=".55"/>
<circle class="b" cx="741.0" cy="433.2" r=".55"/>
<circle class="b" cx="745.5" cy="439.0" r=".55"/>
<circle class="b" cx="741.0" cy="444.8" r=".55"/>
<circle class="b" cx="745.5" cy="450.6" r=".55"/>
<circle class="b" cx="741.0" cy="456.4" r=".55"/>
<path class="w" d="M688.0 329.2L716.2 343.8L716.2 387.5L688.0 371.2Z"/>
<path class="l" d="M690 333L714 345.5L714 384L690 369.5Z"/>
<path class="l" d="M692 337L700 341L700 352L692 348ZM703 344L711 348L711 360L703 356ZM694 352L694 366L706 372.5L706 360M709 362L709 378L713 380"/>
<path class="b" d="M700.5 343L703 344.3L703 350L700.5 348.7ZM706 352L712 355L712 358L706 355ZM695.5 355L699.5 357L699.5 363L695.5 361ZM707 364L711.5 366.3L711.5 369L707 366.7Z"/>
<path class="b" d="M691 335L699 339L699 343L691 339ZM702 341L713 346.5L713 352L702 346.5ZM691 344L695 346L695 356L691 354ZM709 358L713.5 360.3L713.5 368L709 365.7Z"/>
<path class="l" d="M696 343L696 356L702 359L702 349M690.5 350L700 355M703 352L713 357"/>
<path class="t" d="M692 366L692 372M698 372L698 378M704 376L704 382M711 380L711 386M690 340L688 340M690 360L688 360M697 349.5L697 353.5M701 352L701 358"/>
<circle class="b" cx="692.0" cy="334.5" r=".7"/>
<circle class="b" cx="712.0" cy="346.0" r=".7"/>
<circle class="b" cx="712.0" cy="382.0" r=".7"/>
<circle class="b" cx="692.0" cy="370.0" r=".7"/>
<circle class="b" cx="702.0" cy="362.0" r=".7"/>
<circle class="b" cx="708.0" cy="374.0" r=".7"/>
<circle class="b" cx="696.0" cy="368.0" r=".7"/>
<path class="w" d="M684.0 543.0L690.0 540.0L690.0 521.0L707.0 511.0L724.0 521.0L724.0 540.5L733.0 544.0L710.0 557.0Z"/>
<path class="l" d="M690 521L707 530L724 521M707 530L707 550M690 540L707 550L724 540.5M684 543L684 544.8L710 558.8L733 545.8L733 544M688 543.5L710 555L729.5 544"/>
<path class="b" d="M709.5 533L714 530.5L714 546L709.5 548.5ZM716 529.3L721.5 526.3L721.5 541.5L716 544.5Z"/>
<path d="M711 536L712.5 535.2L712.5 544L711 544.8ZM717.5 532L720 530.7L720 539.5L717.5 540.8Z" fill="#fff"/>
<path class="l" d="M693.5 516.5L693.5 514.5L696.5 513L696.5 515"/>
<path class="l" d="M724 533Q738 532 747 522Q749 520 748 518M724 536Q738 538 746.5 534M747 541Q752 545 759 541.5Q762 540 764 538.5M724 538.5Q736 541 745 540"/>
<ellipse class="l" cx="750" cy="533" rx="3.4" ry="2.4"/><ellipse class="t" cx="750" cy="533" rx="1.5" ry="1"/>
<path class="w" d="M554.3 598L572.7 608.5L572.7 649.9L570.5 649.5L554.3 639Z"/>
<path class="w" d="M551.2 590.5L554 588.5L554.3 584.2L556.5 585L557.5 588L560 586.5L566 588.5L571.9 594.1L572.7 596L572.7 609L568.3 610L551.2 599.5Z"/>
<path class="l" d="M551.2 591L568.3 600.5L568.3 609.5M568.3 600.5L572.7 597.5"/>
<path d="M551.5 589.8L569 599.5" stroke="#000" stroke-width="2.6" fill="none"/>
<path class="b" d="M573 625.2L577.5 628L577.5 640.3L573 641Z"/>
<path class="w" d="M577.5 628.5L579.5 629.5L579.5 637.5L577.5 638.5Z"/>
<circle class="b" cx="562.3" cy="614.8" r=".8"/><circle class="b" cx="573.5" cy="604.5" r="1"/>
</g>
<!-- 06_right.svg -->
<g id="right">
<path class="w" d="M667.4 592.7L712.2 565.4L712.2 568.0L716.1 566.0L716.1 562.8L731.1 555.6L731.7 558.2L770.7 581.0L770.7 583.6L703.1 621.3L700.5 619.3L667.4 595.9Z"/>
<path class="l" d="M667.4 592.7L703.1 618.7L770.7 581.0"/>
<path class="l" d="M703.1 618.7L703.1 621.3"/>
<path class="l" d="M670.6 593.3L712.2 568.0"/>
<path class="l" d="M716.1 566.0L730.4 558.9L766.8 580.3L704.4 616.7L670.6 593.3"/>
<path class="l" d="M696.6 581.6L731.7 563.4Q748.6 568.0 748.6 572.5L712.2 592.0"/>
<path class="l" d="M699.9 583.6L731.7 566.7Q743.4 569.9 744.1 572.5L713.5 588.8"/>
<path class="l" d="M696.6 581.6L694.0 585.5L709.6 595.9L712.2 592.0"/>
<path class="l" d="M699.9 583.6L698.6 585.8L710.3 592.7L713.5 588.8"/>
<path class="l" d="M714.8 599.8L751.2 578.4Q757.7 576.4 761.6 581.0L722.6 604.4Q713.5 605.0 714.8 599.8Z"/>
<path class="l" d="M743.4 579.0L744.7 582.9L748.6 581.0"/>
<path class="l" d="M672.6 595.3L684.3 590.1L712.2 606.3Q713.5 610.2 704.4 615.4L699.2 614.8Z"/>
<circle class="l" cx="702.5" cy="610.2" r="2.2"/>
<ellipse class="l" cx="696.6" cy="592.0" rx="2.4" ry="1.8"/>
<path class="l" stroke-dasharray="2 1.5" d="M694.0 600.5L687.5 605.0L697.9 610.9"/>
<path class="b" d="M685.6 590.1l2.4 -1.4l1.6 1l-2.4 1.4z"/>
<path class="b" d="M694.0 581.6l2.4 -1.4l1.6 1l-2.4 1.4z"/>
<path class="b" d="M706.4 595.9l2.4 -1.4l1.6 1l-2.4 1.4z"/>
<path class="b" d="M702.5 599.8l2.4 -1.4l1.6 1l-2.4 1.4z"/>
<path class="b" d="M725.2 590.1l2.4 -1.4l1.6 1l-2.4 1.4z"/>
<path class="b" d="M717.4 571.2l2.4 -1.4l1.6 1l-2.4 1.4z"/>
<path class="b" d="M731.1 579.0l2.4 -1.4l1.6 1l-2.4 1.4z"/>
<path class="t" d="M668.0 595.9L668.0 597.9L671.9 600.5L671.9 598.5M678.4 602.4L678.4 604.0M707.0 618.0L707.0 619.6L712.2 616.7M717.4 614.1L717.4 615.7M721.3 610.2L725.2 608.3"/>
<path class="l" d="M700.5 619.6L700.5 626.5L712.9 633.6L727.2 624.5L727.2 607.6"/>
<path class="l" d="M712.9 633.6L712.9 616.1"/>
<path class="t" d="M727.8 548L727.8 633"/>
<circle class="b" cx="727.8" cy="633.8" r="1.7"/>
<path class="t" stroke-dasharray="3 1.5" d="M714.8 563.4L714.8 632.3"/>
<path class="b" d="M687.5 571.5L689.5 567L691 567L691 564.5L692.3 564.5L692.5 567L694.5 568L693.5 572.5L689 573Z"/>
<ellipse cx="875" cy="368" rx="20.5" ry="12" fill="none" stroke="#000" stroke-width="2"/>
<ellipse class="t" cx="875" cy="369.5" rx="18.5" ry="10.3"/>
<circle class="b" cx="875" cy="380.5" r="1.7"/><circle class="b" cx="856" cy="361.5" r="1.3"/><circle class="b" cx="894.5" cy="361.5" r="1.3"/>
<path class="l" d="M854.5 368L854.5 371Q858 381 875 382.5Q892 381 895.5 371L895.5 368"/>
<ellipse class="l" cx="860.4" cy="420.6" rx="39.2" ry="23.8"/>
<ellipse class="t" cx="860.4" cy="420.3" rx="37.8" ry="22.6"/>
<ellipse class="l" cx="860" cy="419.6" rx="35.2" ry="20.6"/>
<ellipse class="t" cx="860" cy="419.4" rx="33.8" ry="19.5"/>
<ellipse class="l" cx="859.5" cy="418.9" rx="22.75" ry="13.6"/>
<ellipse class="l" cx="859.5" cy="419.2" rx="18.2" ry="10.5"/>
<ellipse class="l" cx="831" cy="414" rx="2" ry="1.3"/><ellipse class="l" cx="882.5" cy="408" rx="2" ry="1.3"/><ellipse class="l" cx="868.5" cy="437.5" rx="2" ry="1.3"/>
<path class="b" d="M856 417.5L858 416.5L859 418L857 419ZM860.5 417L864 416.5L864 418L861 418.5ZM859 420.5L862.5 419.5L863 421.5L860 422Z"/>
<ellipse cx="868.75" cy="530" rx="78" ry="52.5" fill="none" stroke="#000" stroke-width="1.9" stroke-dasharray="6.5 5"/>
<path class="l" d="M817 494.5L920.75 494.5L920.75 552.5L817 552.5Z"/>
<path class="l" d="M826 498L912 498Q915 498 915 501L915 545Q915 548 912 548L826 548Q823.25 548 823.25 545L823.25 501Q823.25 498 826 498Z"/>
<path class="l" d="M846.25 506.25L892.5 506.25L892.5 535L846.25 535Z"/>
<path class="l" d="M824.5 499L846.25 506.25M913.7 499L892.5 506.25M824.5 547L846.25 535M913.7 547L892.5 535M826 501L844.5 507.5M912 501L894 507.5M826 545L844.5 534M912 545L894 534"/>
<path class="l" stroke-dasharray="5 1.5 1.5 1.5" d="M835.75 510L835.75 558M902 512.5L902 558M835.75 509.5L891 509.5L891 514M891 532L891 536.5L847.5 536.5L847.5 512"/>
<path class="b" d="M829 511.5L832.5 511.5L832.5 515L829 515ZM829 527L832.5 527L832.5 530.5L829 530.5ZM840 512L843 512L843 515L840 515ZM840 523L843 523L843 526L840 526ZM905 511.5L908.5 511.5L908.5 515L905 515ZM905 527L908.5 527L908.5 530.5L905 530.5ZM895 512L897.5 512L897.5 514.5L895 514.5ZM895 523L897.5 523L897.5 525.5L895 525.5Z"/>
<path class="t" d="M916.5 509L918.5 509L918.5 514L916.5 514ZM916.5 537L918.5 537L918.5 542L916.5 542Z"/>
<ellipse class="l" cx="833.75" cy="562" rx="2.6" ry="2" transform="rotate(-30 833.75 562)"/><ellipse class="b" cx="833.3" cy="562.3" rx="1.1" ry=".8"/>
<path class="b" d="M900.3 559.5L903.6 558.5L904 564L900.7 565Z"/><path d="M901.3 560.5L902.7 560L903 563L901.6 563.5Z" fill="#fff"/>
<path class="l" d="M816.25 623.75L831.25 615Q848 618 860.5 632.5L846.25 641.25Q836 628 816.25 623.75Z"/>
<path class="t" d="M816.25 623.75Q832 622 846.25 641.25"/>
<path class="d" d="M735 653.75L943.7 653.75L943.7 786.5L735 786.5ZM735 708L943.7 708M735 738L943.7 738M810.75 653.75L810.75 786.5"/>
<path class="l" d="M750 681L766.5 672.5L770 672.5L791 681L791 684.5L770.5 680.5L766.5 680.5L750 684.5Z"/>
<circle class="b" cx="768.5" cy="678" r="2.2"/><circle cx="768.5" cy="678" r=".8" fill="#fff"/>
<path class="l" d="M751 693.5L789 692L797 692.5L797 700L789 700.5L751 699.5Z"/>
<path class="t" stroke-dasharray="4 1.5 1 1.5" d="M751 696.5L797 696.5"/>
<ellipse class="l" cx="772" cy="696.5" rx="2.2" ry="6"/><ellipse class="b" cx="772" cy="696.5" rx="1.3" ry="3.5"/>
<path class="t" d="M766 694L766 699M778 694L778 699"/>
<circle class="l" cx="744.5" cy="727" r="4.3"/><circle class="l" cx="744.5" cy="727" r="1.8"/>
<path class="t" d="M738.5 727L750.5 727M744.5 721L744.5 733"/>
<path class="l" d="M756.25 722.5L760 722.5L760 731.5L756.25 731.5ZM760 724.2L798 724.2L805 727L798 729.8L760 729.8Z"/>
<path class="t" d="M760 727L808 727"/>
<path class="l" d="M740.75 770.5L794.25 770.5L794.25 775L740.75 775Z"/>
<path class="t" d="M743.0 770.5L743.0 775M745.4 770.5L745.4 775M747.6 770.5L747.6 775M750.0 770.5L750.0 775M752.2 770.5L752.2 775M754.5 770.5L754.5 775M756.9 770.5L756.9 775M759.1 770.5L759.1 775M761.5 770.5L761.5 775M763.8 770.5L763.8 775M766.0 770.5L766.0 775M768.4 770.5L768.4 775M770.6 770.5L770.6 775M773.0 770.5L773.0 775M775.2 770.5L775.2 775M777.5 770.5L777.5 775M779.9 770.5L779.9 775M782.1 770.5L782.1 775M784.5 770.5L784.5 775M786.8 770.5L786.8 775M789.0 770.5L789.0 775M791.4 770.5L791.4 775"/>
<path class="b" d="M797.5 770.5L799 770.5L799 775L797.5 775ZM800.2 770.5L801.5 770.5L801.5 775L800.2 775Z"/>
<path class="l" d="M830 674L888.9 674L888.9 683.8L830 683.8ZM899.3 674L908.9 674L908.9 683.4L899.3 683.4Z"/>
<circle class="l" cx="844.7" cy="726" r="5.8"/><circle class="l" cx="844.7" cy="726" r="3.6"/><circle class="l" cx="844.7" cy="726" r="1.6"/>
<path class="t" d="M837 726L852.5 726M844.7 718.2L844.7 733.8"/>
<path class="l" d="M861 721.8Q864 726 861 731M861 721.8L863.5 721.8L863.5 731L861 731M863.5 724L930.5 724L933.3 726.3L930.5 728.6L863.5 728.6"/>
<path class="b" d="M861.5 722L863.5 722L863.5 731L861.5 731Z"/>
<path class="t" d="M858 726.3L936 726.3"/>
<circle class="l" cx="844.7" cy="774.7" r="8"/><circle class="b" cx="844.7" cy="774.7" r="1.5"/>
<path class="t" d="M834 774.7L856 774.7M844.7 763.5L844.7 786"/>
<path class="l" d="M864.4 766.8L865.8 766.8L870 772.5L931 772.5L933.3 774.8L931 777L870 777L865.8 783L864.4 783Z"/>
<path class="t" stroke-dasharray="5 1.5 1 1.5" d="M860 774.8L936 774.8"/>
<path class="l" d="M800.8 804.4Q823.6 808.0 845.2 824.8M804.4 814.6Q826.0 815.8 845.2 824.8M809.8 808.0Q826.0 811.0 845.2 824.8M809.2 802.0Q829.6 803.2 845.2 824.8M819.4 802.6Q830.8 804.4 845.2 824.8M825.4 803.2Q834.4 808.0 845.2 824.8M814.0 810.4Q828.4 814.0 845.2 824.8"/>
<path class="l" d="M845.2 824.8Q864.4 815.8 892.0 820.0M845.2 824.8Q871.6 820.6 895.6 826.0M845.2 824.8Q874.0 826.0 898.0 829.0M845.2 824.8Q871.6 829.6 888.4 831.4M845.2 824.8Q876.4 834.4 898.0 838.0M845.2 824.8Q874.0 838.0 899.8 840.4M845.2 824.8Q869.2 835.0 886.0 838.0M845.2 824.8Q869.2 824.2 889.6 824.8"/>
<path d="M834.4 819.4Q840.4 823.0 846.4 825.2M846.4 825.2Q852.4 826.6 859.6 828.4" stroke="#000" stroke-width="2" fill="none"/>
<path class="b" d="M799.0 802.0l4.6 1.6l-1 3l-4.6 -1.6zM802.0 813.4l4.6 1.6l-1 3l-4.6 -1.6zM893.2 826.0l4.6 1.6l-1 3l-4.6 -1.6zM895.6 836.8l4.6 1.6l-1 3l-4.6 -1.6zM889.6 819.4l4.6 1.6l-1 3l-4.6 -1.6zM884.8 836.2l4.6 1.6l-1 3l-4.6 -1.6z"/>
<circle class="l" cx="810.4" cy="808.0" r="1.7"/><circle class="l" cx="819.4" cy="802.0" r="1.9"/><circle class="l" cx="825.4" cy="802.6" r="1.3"/><circle class="l" cx="808.6" cy="801.8" r="1.2"/>
</g>
<!-- 07_door.svg -->
<g id="door">
<path d="M339.5 402.8L460 465.5L460 629L152 817L51.5 758.5L51.5 580Z" fill="none" stroke="#000" stroke-width="1.6" stroke-dasharray="8 5"/>
<path class="w" d="M336.4 430.0L341.0 429.0L433.0 479.0L432.4 540.0L429.0 543.0L336.4 493.0Z"/>
<path class="l" d="M336.4 430.0L339.0 431.6L430.0 481.0L433.0 479.0"/>
<path class="l" d="M339.0 431.6L339.0 494.0"/>
<path class="l" d="M430.0 481.0L429.4 542.0"/>
<path d="M343.0 437.0L344.0 436.0L426.0 481.0L427.6 484.0L427.0 530.0L424.4 531.6L343.0 488.0Z" fill="#fff" stroke="#000" stroke-width="1.6" stroke-linejoin="round"/>
<path class="t" d="M345.0 440.0L424.0 483.6L423.6 528.0L345.0 485.0Z"/>
<path class="t" d="M337.6 434.0L337.6 490.0"/>
<circle class="b" cx="374.0" cy="448.0" r=".8"/>
<circle class="b" cx="400.0" cy="462.4" r=".8"/>
<circle class="b" cx="338.0" cy="458.0" r=".8"/>
<circle class="b" cx="428.0" cy="534.0" r=".8"/>
<path class="w" d="M321.6 462L398 504Q402 506 402 509L402 555L321.6 511Z"/>
<path class="w" d="M265.0 474.0L270.0 473.6L373.0 531.0L390.0 528.0L390.0 586.0L373.0 606.0L368.0 604.0L270.0 548.0L263.0 546.0L265.0 542.0Z"/>
<path class="l" d="M265.0 474.0L270.0 477.0L373.0 534.0L373.0 606.0"/>
<path class="l" d="M270.0 477.0L270.0 548.0"/>
<path class="l" d="M274.0 487.0L274.0 548.0"/>
<path class="l" d="M364.0 535.0L364.0 599.0"/>
<path class="l" d="M368.0 532.0L368.0 604.0"/>
<path class="l" d="M280.0 492.0L362.0 536.0L362.0 582.0L280.0 538.0Z"/>
<path class="l" d="M282.0 495.0L360.4 538.0L360.4 579.6L282.0 536.0Z"/>
<path class="l" d="M285.0 502.0L359.0 541.0L359.0 577.0L285.0 535.0Z"/>
<path class="k" d="M280.0 492.4L362.0 536.4"/>
<path class="t" d="M272.4 482.0L272.4 479.2L274.0 480.1L274.0 482.9M275.3 483.6L275.3 480.8L276.9 481.7L276.9 484.5M278.3 485.2L278.3 482.4L279.9 483.2L279.9 486.1M281.2 486.8L281.2 484.0L282.8 484.8L282.8 487.6M284.1 488.4L284.1 485.6L285.7 486.4L285.7 489.2M287.0 489.9L287.0 487.1L288.7 488.0L288.7 490.8M290.0 491.5L290.0 488.7L291.6 489.6L291.6 492.4M292.9 493.1L292.9 490.3L294.5 491.2L294.5 494.0M295.8 494.7L295.8 491.9L297.4 492.8L297.4 495.6M298.8 496.3L298.8 493.5L300.4 494.4L300.4 497.2M301.7 497.9L301.7 495.1L303.3 496.0L303.3 498.8M304.6 499.5L304.6 496.7L306.2 497.5L306.2 500.3M307.6 501.1L307.6 498.3L309.2 499.1L309.2 501.9M310.5 502.6L310.5 499.8L312.1 500.7L312.1 503.5M313.4 504.2L313.4 501.4L315.0 502.3L315.0 505.1M316.3 505.8L316.3 503.0L318.0 503.9L318.0 506.7M319.3 507.4L319.3 504.6L320.9 505.5L320.9 508.3M322.2 509.0L322.2 506.2L323.8 507.1L323.8 509.9M325.1 510.6L325.1 507.8L326.7 508.7L326.7 511.5M328.1 512.2L328.1 509.4L329.7 510.2L329.7 513.0M331.0 513.8L331.0 511.0L332.6 511.8L332.6 514.6M333.9 515.4L333.9 512.6L335.5 513.4L335.5 516.2M336.8 516.9L336.8 514.1L338.5 515.0L338.5 517.8M339.8 518.5L339.8 515.7L341.4 516.6L341.4 519.4M342.7 520.1L342.7 517.3L344.3 518.2L344.3 521.0M345.6 521.7L345.6 518.9L347.2 519.8L347.2 522.6M348.6 523.3L348.6 520.5L350.2 521.4L350.2 524.2M351.5 524.9L351.5 522.1L353.1 523.0L353.1 525.8M354.4 526.5L354.4 523.7L356.0 524.5L356.0 527.3M357.4 528.1L357.4 525.3L359.0 526.1L359.0 528.9M360.3 529.6L360.3 526.8L361.9 527.7L361.9 530.5M363.2 531.2L363.2 528.4L364.8 529.3L364.8 532.1M366.1 532.8L366.1 530.0L367.8 530.9L367.8 533.7M369.1 534.4L369.1 531.6L370.7 532.5L370.7 535.3"/>
<path class="l" d="M272.4 482.0L372.0 536.0"/>
<path class="l" d="M373.0 531.0L378.0 538.0L378.0 602.0L373.0 606.0"/>
<path class="l" d="M378.0 538.0L390.0 532.0"/>
<path class="l" d="M381.0 538.0L389.0 534.0L389.0 542.0L381.0 546.0Z"/>
<path class="l" d="M381.0 576.0L389.0 572.0L389.0 580.0L381.0 584.0Z"/>
<path class="t" d="M370.0 540.0L376.0 543.0L376.0 547.0L370.0 544.0ZM370.0 550.0L376.0 553.0L376.0 557.0L370.0 554.0ZM370.0 562.0L376.0 565.0L376.0 569.0L370.0 566.0ZM370.0 574.0L376.0 577.0L376.0 581.0L370.0 578.0ZM370.0 586.0L376.0 589.0L376.0 593.0L370.0 590.0ZM370.0 594.0L376.0 597.0L376.0 601.0L370.0 598.0Z"/>
<path class="b" d="M378.0 540.0L382.0 538.0L382.0 543.0L378.0 545.0ZM378.0 578.0L382.0 576.0L382.0 581.0L378.0 583.0Z"/>
<path class="l" d="M374.0 548.0L387.0 558.0M374.0 586.0L386.0 595.0"/>
<circle class="b" cx="387.6" cy="558.4" r="1"/><circle class="b" cx="386.6" cy="595.4" r="1"/>
<circle class="b" cx="291.0" cy="493.0" r=".8"/>
<circle class="b" cx="315.0" cy="506.4" r=".8"/>
<circle class="b" cx="340.0" cy="521.0" r=".8"/>
<circle class="b" cx="291.0" cy="557.0" r=".8"/>
<circle class="b" cx="314.0" cy="571.0" r=".8"/>
<circle class="b" cx="340.0" cy="585.6" r=".8"/>
<circle class="b" cx="264.0" cy="544.4" r=".8"/>
<circle class="b" cx="370.0" cy="602.4" r=".8"/>
<circle class="l" cx="264.4" cy="545.2" r="1.5"/>
<path class="w" d="M197.3 539.5L291 591.7Q294.4 593.8 294.4 597L294.4 633.8L197.3 578.6Z"/>
<path class="l" d="M204.7 555Q204.7 550 208.5 552.5L275 589.5Q279 592 279 596L279 616Q279 621 275.5 618.5L208 576.5Q204.7 574.5 204.7 571Z"/>
<path class="w" d="M142 551L144.5 549.5L252.5 610.5L252.5 612L250.7 674Q200 650 142 613Z"/>
<path class="l" d="M142 551L250.7 613L252.5 612M250.7 613L248.8 672"/>
<path class="l" d="M146.7 572Q146.7 566 151 568.5L241 617.5Q244.7 620 244.7 624L244.7 652Q244.7 657.5 240.5 655.5Q190 632 150 607Q146.7 605 146.7 601Z"/>
<path class="t" d="M144 606Q200 642 248.8 664.5"/>
<circle class="l" cx="150.4" cy="612.3" r="2.3"/><circle class="l" cx="150.4" cy="612.3" r="1.1"/><circle class="l" cx="241.5" cy="615.4" r="1.8"/><circle class="l" cx="241.5" cy="662" r="1.3"/>
<path class="t" d="M76.5 656.5L150 613M168.8 660.5L416 506.5"/>
<circle class="b" cx="416.5" cy="506.3" r="1.2"/>
<path class="b" d="M295 582L300 579L301.5 581.5L296.5 584.5Z"/>
<path class="t" d="M295.5 580.5L297 583.5M297.5 579.5L299 582.5M299.5 578.5L301 581.5"/>
<ellipse class="b" cx="75.9" cy="657.7" rx="2.3" ry="3.4" transform="rotate(-20 75.9 657.7)"/>
<path class="w" d="M165.5 660.5L170.5 658.5Q158 688 174 715.5L169.5 718.5Q150 690 165.5 660.5Z"/>
<path class="l" d="M168 659.5Q154.5 689 171.7 717M165.5 660.5L167 657L171 656L170.5 658.5M169.5 718.5L168.5 716"/>
<path class="t" d="M160.5 671L165 672.5M158.2 682L162.8 682.5M158 693L162.5 692.3M160.3 703.5L164.6 702M164.5 712L168.2 710"/>
</g>
<!-- 08_ctrl.svg -->
<g id="ctrl">
<path d="M501.25 633.75L569.5 668.75L569.5 775L425 862L353 822.5L353 721.25Z" fill="none" stroke="#000" stroke-width="1.6" stroke-dasharray="8 5"/>
<path class="w" d="M392 757.5L416 771Q422.5 775 422.5 781L422.5 827.5L394 812Q392 811 392 808Z"/>
<path class="l" d="M400.8 767.0L415.0 774.0L415.0 780.0L400.8 773.0Z"/>
<path class="w" d="M423.0 795.0L448.0 804.5L448.0 808.5L423.0 799.5Z"/>
<path class="w" d="M423.8 806.2L445.5 815.5L445.5 820.0L423.8 811.2Z"/>
<circle class="l" cx="441.8" cy="815.0" r="1.3"/>
<path class="w" d="M434.5 706.2L441.2 700.0L481.2 722.5L481.2 802.5L475.0 808.8L470.0 810.0L434.5 792.5Z"/>
<path class="l" d="M434.5 706.2L475.0 727.0L481.2 722.5"/>
<path class="l" d="M475.0 727.0L475.0 808.8"/>
<path class="l" d="M470.0 730.0L470.0 810.0"/>
<path class="l" d="M436.2 710.0L470.0 728.0"/>
<path class="l" d="M436.2 710.0L436.2 791.2"/>
<path class="k" d="M435.0 708.0L474.5 728.2"/>
<path class="l" d="M441.25 726Q441.25 723 444 724.3L463 734Q466.25 735.7 466.25 739L466.25 785L444 774Q441.25 772.6 441.25 770Z"/>
<path class="l" d="M441.2 772.5L436.2 778.8L436.2 782.5L463.8 795.0L468.8 790.0L470.0 785.0"/>
<path class="l" d="M443.0 739.5L462.5 749.5M443.0 748.5L462.5 758.5M443.0 757.5L462.5 767.5M443.0 766.5L462.5 776.5M443.0 775.5L462.5 785.5M443.0 739.5L443.0 775.5M452.8 744.5L452.8 780.5M462.5 749.5L462.5 785.5"/>
<path class="l" d="M443.0 726.2L461.2 735.5L461.2 742.5L443.0 733.8Z"/>
<path class="b" d="M442.0 724.5L445.0 726.0L445.0 731.2L442.0 729.8Z"/>
<path class="w" d="M422.0 733.8L425.0 732.0L440.0 742.5L440.0 751.2L437.0 752.5L422.0 742.5Z"/>
<path class="l" d="M424.0 735.5L438.0 744.2L438.0 750.0L424.0 741.8Z"/>
<path class="t" d="M477.5 726.2L477.5 805.0M481.2 732.5L483.0 733.8L483.0 737.5M481.2 760.0L483.0 761.2L483.0 765.0"/>
<path class="l" d="M481.2 797.5L487.5 795.0L489.5 796.2L485.0 802.5L481.2 803.8"/>
<path class="t" d="M441.2 700.0L441.2 702.0L443.0 701.2M450.0 705.0L450.0 707.0M460.0 710.5L460.0 712.5L465.0 715.0L465.0 713.0M465.0 718.8L467.5 717.5L468.0 720.5"/>
<path class="w" d="M495.0 657.5L500.0 652.5L533.8 671.2L535.0 672.5L535.0 751.2L533.8 750.0L495.0 732.5Z"/>
<path class="l" d="M495.0 657.5L530.0 675.5L533.8 671.2M530.0 675.5L530.0 748.8"/>
<path class="l" d="M502.0 671.2L522.5 681.2L522.5 692.5L502.0 682.5Z"/>
<path class="t" d="M503.8 676.2L521.2 685.0M503.8 680.0L521.2 688.8"/>
<path class="b" d="M515.0 700.0L516.5 700.8L516.5 710.0L515.0 709.2ZM518.0 702.5L519.2 703.2L519.2 711.2L518.0 710.5ZM520.5 670.0L525.0 667.5L526.2 670.0L522.0 673.0ZM499.0 727.5L502.5 729.2L502.5 731.8L499.0 730.0Z"/>
<circle class="b" cx="500.0" cy="682.5" r=".8"/>
<circle class="b" cx="505.0" cy="685.0" r=".8"/>
<circle class="b" cx="502.5" cy="688.8" r=".8"/>
<circle class="b" cx="507.5" cy="691.2" r=".8"/>
<circle class="b" cx="500.0" cy="695.0" r=".8"/>
<circle class="b" cx="505.0" cy="700.0" r=".8"/>
<circle class="b" cx="502.5" cy="706.2" r=".8"/>
<circle class="b" cx="507.5" cy="705.0" r=".8"/>
<circle class="b" cx="500.0" cy="712.5" r=".8"/>
<circle class="b" cx="505.0" cy="716.2" r=".8"/>
<circle class="b" cx="512.5" cy="695.0" r=".8"/>
<circle class="b" cx="520.0" cy="697.5" r=".8"/>
<circle class="b" cx="523.8" cy="700.0" r=".8"/>
<circle class="b" cx="512.5" cy="706.2" r=".8"/>
<circle class="b" cx="521.2" cy="715.0" r=".8"/>
<circle class="b" cx="523.8" cy="720.0" r=".8"/>
<circle class="b" cx="515.0" cy="722.5" r=".8"/>
<circle class="b" cx="502.5" cy="721.2" r=".8"/>
<circle class="b" cx="521.2" cy="727.5" r=".8"/>
<circle class="b" cx="523.8" cy="731.2" r=".8"/>
<path class="t" d="M505.0 731.2L516.2 736.5M507.0 733.8L515.0 737.5"/>
<path class="l" d="M532.5 685.0L533.8 685.5L533.8 690.0L532.5 689.5ZM532.5 730.0L533.8 730.5L533.8 735.0L532.5 734.5ZM531.2 692.5L531.2 720.0"/>
<path class="t" d="M518.8 657.5L518.8 660.0L520.5 660.8M500.0 652.5L500.0 655.0"/>
<path class="w" d="M493.0 739.5L496.2 738.0L537.5 758.0L537.5 760.5L532.5 764.2L493.8 745.0Z"/>
<path class="l" d="M495.0 741.2L531.2 759.2L533.8 761.5"/>
<path class="k" d="M500.0 745.0L530.0 760.0"/>
</g>
<!-- 09_bottom.svg -->
<g id="bottom">
<path class="w" d="M510.5 874.5L586.0 830.5L587.5 829.5L590.0 829.0L774.0 936.5L773.5 945.0L706.0 990.0L703.0 990.0L510.5 877.0Z"/>
<path class="l" d="M510.5 874.5L704.0 987.5L774.0 936.5"/>
<path class="l" d="M513 876L703.5 985.5L770 938.5"/>
<path d="M510.5 876.8L704 989.2" stroke="#000" stroke-width="1.5" fill="none"/>
<path class="l" d="M520 874L583 838.5L765 939L704 981Z"/>
<path class="l" d="M524 874.3L583.5 841L760 939L704.5 977.5Z"/>
<path class="l" d="M586 833L768 938M590 832L770 935.5"/>
<path class="l" d="M561 855L727 948M563 853L729.5 946.5"/>
<path class="l" d="M561 855L563 853"/>
<path class="l" d="M559.5 888Q558 890.5 561 892L565 893.5Q567.5 894 569.5 893L591.5 880Q593.5 878 591 876.5L587 875Q585 874.5 583 875.5Z"/>
<path class="t" d="M562.5 889.5L585 877L589 878.5L567 891Z"/>
<path class="l" d="M576.0 902.0L606.0 884.0L682.0 929.0L652.0 947.0Z"/>
<path class="l" d="M579.0 901.5L606.0 886.0L678.5 929.0L652.5 944.5Z"/>
<clipPath id="mesh"><path d="M583.0 900.0L606.0 887.0L677.0 929.0L654.0 942.0Z"/></clipPath>
<g clip-path="url(#mesh)"><path d="M583.0 900.0L606.0 887.0L677.0 929.0L654.0 942.0Z" fill="#fff"/>
<path d="M583.0 900.0L606.0 887.0M585.8 901.7L608.8 888.7M588.7 903.4L611.7 890.4M591.5 905.0L614.5 892.0M594.4 906.7L617.4 893.7M597.2 908.4L620.2 895.4M600.0 910.1L623.0 897.1M602.9 911.8L625.9 898.8M605.7 913.4L628.7 900.4M608.6 915.1L631.6 902.1M611.4 916.8L634.4 903.8M614.2 918.5L637.2 905.5M617.1 920.2L640.1 907.2M619.9 921.8L642.9 908.8M622.8 923.5L645.8 910.5M625.6 925.2L648.6 912.2M628.4 926.9L651.4 913.9M631.3 928.6L654.3 915.6M634.1 930.2L657.1 917.2M637.0 931.9L660.0 918.9M639.8 933.6L662.8 920.6M642.6 935.3L665.6 922.3M645.5 937.0L668.5 924.0M648.3 938.6L671.3 925.6M651.2 940.3L674.2 927.3M654.0 942.0L677.0 929.0M583.0 900.0L654.0 942.0M585.9 898.4L656.9 940.4M588.8 896.8L659.8 938.8M591.6 895.1L662.6 937.1M594.5 893.5L665.5 935.5M597.4 891.9L668.4 933.9M600.2 890.2L671.2 932.2M603.1 888.6L674.1 930.6M606.0 887.0L677.0 929.0" stroke="#000" stroke-width="1.15" fill="none"/>
</g>
<path class="l" d="M583.0 900.0L606.0 887.0L677.0 929.0L654.0 942.0Z"/>
<path class="l" d="M662 949Q661 951 663.5 951.5L689.5 936.5Q690.5 934.5 688 934.2Z"/>
<path class="k" d="M664 949.5L688 935.8"/>
<path class="w" d="M640 880L668 895.5Q664 902 669 909L691 897Q694 893 690 889L660 872Z"/>
<ellipse class="w" cx="674" cy="905" rx="6.5" ry="7.5" transform="rotate(-30 674 905)"/>
<circle class="l" cx="678.5" cy="906.5" r="2.6"/>
<path class="l" d="M681 909Q686 910 688 905L692 903Q694 898 690.5 896"/>
<path d="M676 908.5Q681 913 687 908.5L690.5 906" stroke="#000" stroke-width="1.8" fill="none"/>
<path class="l" d="M632 886L636 884L640 886.5L636 888.5ZM641 890L646 887.5L650 890L645 892.5Z"/>
<circle class="b" cx="653.5" cy="899.5" r="1"/><circle class="b" cx="632.5" cy="890" r="1"/>
<path class="t" d="M615 797.5L615 866.25L640 879M615 797.5L636 807.5M618 882L632 867M620 868L636 884M696.25 853.75L696.25 917.5M690 920L696.25 917.5L720 913.5M690 920L730 916"/>
<path class="t" stroke-dasharray="3 2" d="M632.5 842.5L632.5 882.5"/>
<path class="t" stroke-dasharray="2.2 1.8" d="M601.25 931.25L512.5 982.5"/>
<path class="t" stroke-dasharray="4 2" d="M638 945L638 1017.5"/>
<path class="t" d="M653 900L653 941"/>
<path class="l" d="M676 921L740.7 956.9M678.5 918.5L743.5 954.5M662.5 951.8L704 977"/>
<path d="M706 980L758 945.5" stroke="#000" stroke-width="1.8" fill="none"/>
<path class="t" d="M677.8 943.3L750.9 985"/>
<circle class="b" cx="515.0" cy="878.0" r=".7"/>
<circle class="b" cx="524.0" cy="880.0" r=".7"/>
<circle class="b" cx="581.0" cy="842.0" r=".7"/>
<circle class="b" cx="596.0" cy="851.0" r=".7"/>
<circle class="b" cx="603.0" cy="931.0" r=".7"/>
<circle class="b" cx="609.0" cy="934.0" r=".7"/>
<circle class="b" cx="615.0" cy="937.0" r=".7"/>
<circle class="b" cx="652.0" cy="955.0" r=".7"/>
<circle class="b" cx="694.0" cy="978.0" r=".7"/>
<circle class="b" cx="755.0" cy="942.0" r=".7"/>
<circle class="b" cx="752.0" cy="928.0" r=".7"/>
<circle class="b" cx="700.0" cy="895.0" r=".7"/>
<circle class="b" cx="667.0" cy="878.0" r=".7"/>
<circle class="l" cx="581.5" cy="846" r="1.3"/><circle class="l" cx="616" cy="934.5" r="1.3"/><circle class="l" cx="652.5" cy="954.5" r="1.3"/>
<path class="t" d="M602 842L612 848M640 864L652 871M700 898L712 905M742 922L752 928"/>
<path class="w" d="M502 987.5L506.5 984.5L507 982L509 981L509.5 983L512 981.5L514.5 983.5L514.5 988.5L508 993.5L504.5 994L502 991.5Z"/>
<path class="b" d="M505.5 988L510.5 984.8L512 987.2L507 990.5Z"/>
<path class="t" d="M503 989.5L508.5 991.5M512.5 981.5L513 985.5M504 993L503.5 995"/>
<path class="w" d="M625 834L629 831.5L643 838L643 842L638.5 844.5L638.5 840.5L629 836L629 844L625 846Z"/>
<path class="l" d="M625 834L629 836M638.5 840.5L643 838"/>
<circle class="l" cx="633" cy="837.5" r="1.4"/>
<path class="b" d="M634.5 806.5L638 804L642 807L643 813L639 816.5L636 814Z"/>
<ellipse cx="638.8" cy="810" rx="1.5" ry="2.5" fill="#fff" transform="rotate(-25 638.8 810)"/>
<path class="w" d="M641.5 808.5Q646 808 647 811.5Q647.5 815 643.5 816.5Z"/>
<path class="t" d="M647 812.5L652 816"/>
<rect class="w" x="-11.1" y="-4.3" width="22.2" height="8.6" rx="4.3" transform="translate(664.9 824.9) rotate(33)"/>
<rect x="-4.2" y="-3.4" width="8.4" height="6.8" rx="1.5" fill="#333" stroke="#000" stroke-width=".8" transform="translate(655.6 821) rotate(33)"/>
<path d="M-2 -3.4L-2 3.4M0 -3.4L0 3.4M2 -3.4L2 3.4" stroke="#ccc" stroke-width=".5" transform="translate(655.6 821) rotate(33)"/>
<rect class="w" x="-11.1" y="-4.3" width="22.2" height="8.6" rx="4.3" transform="translate(688 839.5) rotate(29)"/>
<rect x="-4.2" y="-3.4" width="8.4" height="6.8" rx="1.5" fill="#333" stroke="#000" stroke-width=".8" transform="translate(697 844.2) rotate(29)"/>
<path d="M-2 -3.4L-2 3.4M0 -3.4L0 3.4M2 -3.4L2 3.4" stroke="#ccc" stroke-width=".5" transform="translate(697 844.2) rotate(29)"/>
<path class="t" d="M701 846.5L706 849.5"/>
<path class="w" d="M706 847.5Q709 846 711 849.5L711 854Q708.5 855.5 706.5 853Z"/>
<path class="b" d="M710 853.5L713 848.5L718 849L720.5 852L717 857.5L712 858Z"/>
<ellipse cx="715.3" cy="853" rx="2.4" ry="1.5" fill="#fff" transform="rotate(-30 715.3 853)"/>
<path class="t" d="M716 849L720 850.5L721 853.5"/>
<path class="l" d="M618.2 986.2L630.5 978.5L676.0 1003.5L662.5 1012.0Z"/>
<path class="w" d="M629.25 1021.5L642.5 1014.25L690 1037.5L688.5 1041L675 1050L671.5 1049.5L629.25 1023.5Z"/>
<path class="l" d="M629.25 1021.5L673 1046.5L688.5 1038M673 1046.5L673 1049.5M636 1021L644 1016.8L684 1037L676 1042Z"/>
<path class="t" d="M650 1014.5L650 1016.5M655 1017L655 1019M680 1030L680 1032.5L683.5 1031M686 1033L686 1035.5L689 1034"/>
<circle class="l" cx="638" cy="1019.5" r="1.5"/><circle class="b" cx="638" cy="1040" r="1.6"/>
<path class="t" d="M638 1021L638 1040"/>
<path class="l" d="M737.5 996.2L767.5 978.8L848.0 1026.2L818.8 1044.5Z"/>
<path class="l" d="M741.5 996.3L767.5 981.3L844.0 1026.3L818.8 1041.8Z"/>
<path class="t" d="M737.5 996.25L737.5 998L818.75 1046.3L848 1028L848 1026.25"/>
</g>
<!-- 90_labels.svg -->
<g id="labels" style="filter:grayscale(1)">
<path class="k" d="M103.75 167.75L129.5 167.75"/>
<text x="132.5" y="171.75">9999</text>
<path class="k" d="M222 86.5L251.25 85.75"/>
<text x="202" y="93.5">80</text>
<path class="k" d="M212.5 138.25L220 157"/>
<text x="202" y="134.75">82</text>
<path class="k" d="M361.25 61.75L385 64.25"/>
<text x="345" y="65.25">9<tspan dx="-1.5">1</tspan></text>
<path class="k" d="M433 148.25L483.75 159.5"/>
<text x="415" y="151">1<tspan dx="-1.5">8</tspan></text>
<path class="k" d="M391.25 168.75L415 178.75"/>
<text x="371.75" y="171">68</text>
<path class="k" d="M335 257L365 263.25"/>
<text x="315.75" y="259.75">35</text>
<path class="k" d="M335 280L365 281.75"/>
<text x="315.75" y="284.25">36</text>
<path class="k" d="M276.25 264.25L308 266.25"/>
<text x="250" y="269.75">1<tspan dx="-1.5">0</tspan>0</text>
<path class="k" d="M311.25 310.5L341.25 309.25"/>
<text x="291.25" y="316">37</text>
<path class="k" d="M311.25 335L347.5 330.5"/>
<text x="291.25" y="341.75">38</text>
<path class="k" d="M164.5 317.5L158.75 343.75"/>
<text x="146.25" y="359.75">1<tspan dx="-3">1</tspan><tspan dx="-3">1</tspan></text>
<path class="k" d="M532 101.25L522.5 115.75"/>
<text x="525.5" y="98.5">65</text>
<path class="k" d="M520 172L546.25 170.75"/>
<text x="548.75" y="176">1<tspan dx="-1.5">9</tspan></text>
<path class="k" d="M536.25 198.75L542 208.75"/>
<text x="524.25" y="196.5">60</text>
<path class="k" d="M502.5 216.75L525 216.75"/>
<text x="485" y="222.75">6<tspan dx="-1.5">1</tspan></text>
<path class="k" d="M584.5 158.75L588.75 171.25"/>
<text x="574.25" y="154.75">59</text>
<path class="k" d="M597.5 248.75L616.25 241.25"/>
<text x="619.5" y="242.25">69</text>
<path class="k" d="M614.5 30.75L640 30"/>
<text x="594.5" y="34.75">52</text>
<path class="k" d="M614.5 52.5L643.75 50"/>
<text x="594.5" y="58.5">53</text>
<path class="k" d="M599.5 94.5L625 95.5"/>
<text x="579.5" y="99.5">54</text>
<path class="k" d="M646.25 157.5L668.75 160"/>
<text x="626.25" y="161.75">55</text>
<path class="k" d="M772.5 186.25L786.25 183"/>
<text x="788.75" y="186.5">56</text>
<path class="k" d="M843.75 60L858 65"/>
<text x="862" y="75.25">57</text>
<path class="k" d="M892.5 175.75L911.25 176.75"/>
<text x="915" y="182.25">83</text>
<path class="k" d="M825.5 270L855 270.5"/>
<text x="858.75" y="278">58</text>
<path class="k" d="M718 362.5L737 360"/>
<text x="740" y="363.5">79</text>
<path class="k" d="M898.75 370L917 369.5"/>
<text x="921.25" y="374.25">84</text>
<path class="k" d="M901.25 422.5L917 422"/>
<text x="921.25" y="427.75">85</text>
<path class="k" d="M406.25 341.75L445.75 338"/>
<text x="386.25" y="347.25">39</text>
<path class="k" d="M432 360L461.25 353"/>
<text x="412.5" y="366">92</text>
<path class="k" d="M459.5 375.75L475.75 367.5"/>
<text x="440" y="384.25">40</text>
<path class="k" d="M418.75 395.75L437.5 405"/>
<text x="399.25" y="396.75">42</text>
<path class="k" d="M513.25 410L540 397"/>
<text x="494.5" y="418.5">43</text>
<path class="k" d="M512.5 430.75L529.5 427"/>
<text x="493" y="437.75">45</text>
<path class="k" d="M489.25 468.75L491.25 490"/>
<text x="478" y="464">1<tspan dx="-3">1</tspan><tspan dx="-1.5">4</tspan></text>
<path class="k" d="M516.25 478.75L503.75 490"/>
<text x="517" y="473.5">47</text>
<path class="k" d="M551.25 498.25L522.5 495"/>
<path class="k" d="M551.25 498.25L534.5 505"/>
<path class="k" d="M551.25 498.25L536.25 512"/>
<text x="553.75" y="502.25">1<tspan dx="-3">1</tspan><tspan dx="-1.5">5</tspan></text>
<path class="k" d="M508 537L541.25 530"/>
<text x="488" y="543.5">49</text>
<path class="k" d="M515 562.5L522.5 555"/>
<text x="500" y="578">50</text>
<path class="k" d="M557 557.5L575 565"/>
<text x="578.75" y="571.75">5<tspan dx="-1.5">1</tspan></text>
<path class="k" d="M670 406.25L658.75 418.75"/>
<text x="670" y="404.25">73</text>
<path class="k" d="M668.75 438L691.25 443.25"/>
<text x="695" y="451">74</text>
<path class="k" d="M707.5 420.75L722.5 425.5"/>
<text x="687.5" y="425.5">26</text>
<path class="k" d="M707.5 469.25L726.25 465.75"/>
<text x="688" y="475.25">27</text>
<path class="k" d="M631.25 470L651.25 470"/>
<text x="654.5" y="476">29</text>
<path class="k" d="M638.75 505.75L658.75 502.5"/>
<text x="660" y="506.75">30</text>
<path class="k" d="M603 515L597.5 527"/>
<text x="584.25" y="541.5">28</text>
<path class="k" d="M625 523.75L623.75 535"/>
<text x="616.25" y="550.25">3<tspan dx="-1.5">1</tspan></text>
<path class="k" d="M730.75 502.5L722 514.5"/>
<text x="727" y="499">75</text>
<path class="k" d="M670 567.5L686.25 569.5"/>
<text x="650.5" y="570.5">77</text>
<path class="k" d="M684.5 612.5L672 625.75"/>
<text x="652.5" y="641">76</text>
<path class="k" d="M733 633.75L755 634.5"/>
<text x="758" y="638">89</text>
<path class="k" d="M582.5 632L600 632"/>
<text x="603.75" y="637.25">1<tspan dx="-1.5">2</tspan></text>
<path class="k" d="M831.25 566.25L822 586.25"/>
<text x="811.25" y="601.75">39</text>
<path class="k" d="M903.8 567L910 585.3"/>
<text x="903.8" y="601.8">92</text>
<path class="k" d="M864.4 633.1L886.3 634.5"/>
<path class="k" d="M886.3 634.5L872.3 653.7"/>
<text x="890.3" y="637">86</text>
<text x="818.75" y="754">96</text>
<path class="k" d="M846 829.5L846 845"/>
<text x="836.5" y="860.25">88</text>
<path class="k" d="M76.8 663.7L86 705"/>
<text x="79" y="720">1<tspan dx="-3">1</tspan><tspan dx="-1.5">9</tspan></text>
<path class="k" d="M170.2 720.3L173.4 737.3"/>
<text x="169.7" y="752.5">3</text>
<path class="k" d="M94.3 783.3L82.3 809.5"/>
<text x="67.6" y="824.8">1<tspan dx="-1.5">0</tspan><tspan dx="-1.5">1</tspan></text>
<path class="k" d="M389.5 843.25L377.5 863.75"/>
<text x="359.5" y="878.5">1<tspan dx="-1.5">0</tspan>5</text>
<path class="k" d="M589.25 813.75L622.5 834.5"/>
<text x="565.5" y="812.25">1<tspan dx="-3">1</tspan><tspan dx="-1.5">6</tspan></text>
<path class="k" d="M645 785L643.75 806.25"/>
<text x="637.5" y="783">1<tspan dx="-1.5">8</tspan></text>
<path class="k" d="M673.75 801.25L667.5 821.25"/>
<text x="668.75" y="797.25">1<tspan dx="-1.5">9</tspan></text>
<path class="k" d="M702.5 818.75L693.75 836.25"/>
<text x="700" y="815">1<tspan dx="-1.5">9</tspan></text>
<path class="k" d="M732.5 836.25L716.25 848.75"/>
<text x="736.25" y="834.75">1<tspan dx="-1.5">8</tspan></text>
<path class="k" d="M832.5 988.25L826.25 1010"/>
<text x="825.5" y="984.25">2<tspan dx="-1.5">1</tspan></text>
<path class="k" d="M595.5 990.5L616 986.75"/>
<text x="575.5" y="997.25">22</text>
<path class="k" d="M595.5 1031.25L628 1022.5"/>
<text x="575.5" y="1038">23</text>
<text x="57.5" y="1044.5" style="font-weight:bold;font-size:13.6px;letter-spacing:0;stroke:none">(ART NO. WB14490 C2)</text>
</g>
</svg>
</body></html>
